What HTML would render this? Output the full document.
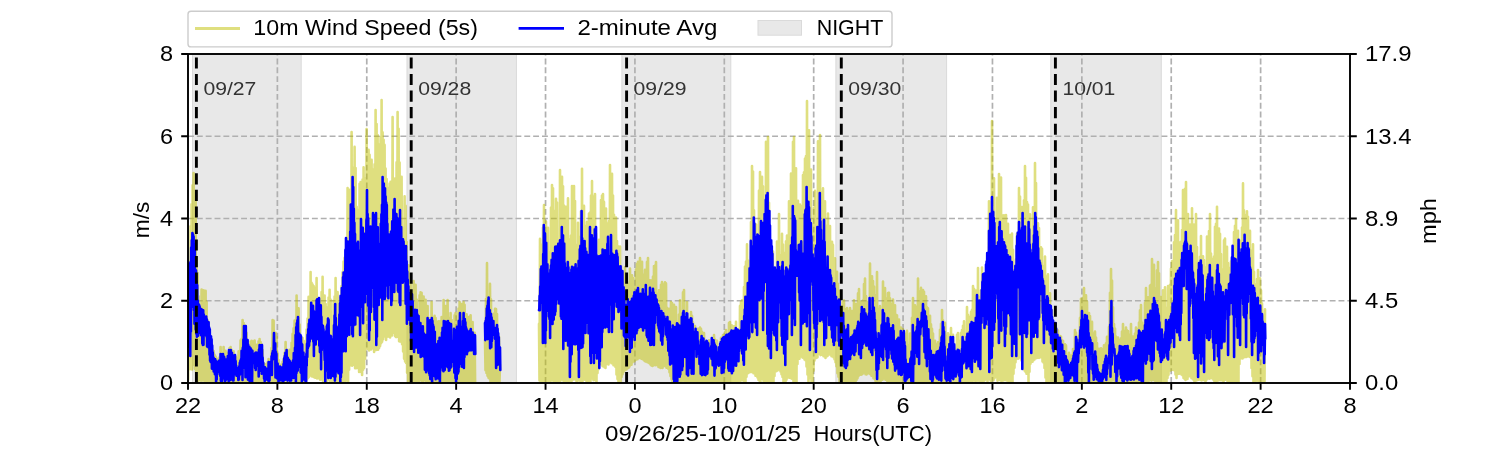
<!DOCTYPE html><html><head><meta charset="utf-8"><style>html,body{margin:0;padding:0;background:#fff;}svg{display:block;will-change:transform;}text{font-family:"Liberation Sans",sans-serif;}</style></head><body>
<svg width="1500" height="450" viewBox="0 0 1500 450">
<defs><clipPath id="ax"><rect x="188" y="54" width="1162" height="329"/></clipPath></defs>
<rect width="1500" height="450" fill="#fff"/>
<rect x="192.5" y="54" width="108.7" height="329" fill="#e8e8e8" stroke="#dadada" stroke-width="1"/>
<rect x="407" y="54" width="109.4" height="329" fill="#e8e8e8" stroke="#dadada" stroke-width="1"/>
<rect x="621.9" y="54" width="108.9" height="329" fill="#e8e8e8" stroke="#dadada" stroke-width="1"/>
<rect x="835.9" y="54" width="110.7" height="329" fill="#e8e8e8" stroke="#dadada" stroke-width="1"/>
<rect x="1050.8" y="54" width="110.5" height="329" fill="#e8e8e8" stroke="#dadada" stroke-width="1"/>
<path d="M277.38,383V54M366.77,383V54M456.15,383V54M545.54,383V54M634.92,383V54M724.31,383V54M813.69,383V54M903.08,383V54M992.46,383V54M1081.85,383V54M1171.23,383V54M1260.62,383V54M188,300.75H1350M188,218.5H1350M188,136.25H1350" stroke="#b0b0b0" stroke-width="1.7" stroke-dasharray="5.9 2.95" fill="none"/>
<g clip-path="url(#ax)">
<g opacity="0.5" fill="none" stroke="#bfbf00" stroke-width="2.6" stroke-linejoin="round" stroke-linecap="round">
<path d="M187.6,323.3 188.1,379.5 188.6,281.7 189.1,369.3 189.6,264.0 190.1,368.8 190.6,226.2 191.1,369.3 191.6,204.2 192.1,369.4 192.6,185.3 193.1,364.7 193.6,173.0 194.1,362.3 194.6,200.2 195.1,369.0 195.6,197.5 196.1,371.8 196.6,258.1 197.1,382.0 197.6,273.1 198.1,381.1 198.6,296.3 199.1,380.1 199.6,315.2 200.1,379.6 200.6,309.8 201.1,380.7 201.6,289.6 202.1,380.5 202.6,319.6 203.1,380.4 203.6,290.4 204.1,380.0 204.6,310.5 205.1,381.6 205.6,290.7 206.1,381.2 206.6,302.1 207.1,382.0 207.6,320.3 208.1,380.9 208.6,322.2 209.1,380.2 209.6,332.1 210.1,381.6 210.6,336.5 211.1,381.4 211.6,344.0 212.1,381.8 212.6,350.2 213.1,380.6 213.6,351.0 214.1,381.9 214.6,354.9 215.1,381.6 215.6,356.6 216.1,381.8 216.6,361.7 217.1,381.7 217.6,358.9 218.1,381.9 218.6,360.3 219.1,381.8 219.6,357.3 220.1,381.8 220.6,347.0 221.1,382.0 221.6,354.9 222.1,380.9 222.6,353.2 223.1,381.1 223.6,347.0 224.1,381.9 224.6,350.7 225.1,381.4 225.6,350.9 226.1,381.6 226.6,355.6 227.1,381.2 227.6,352.7 228.1,381.9 228.6,357.1 229.1,381.4 229.6,348.1 230.1,381.5 230.6,347.0 231.1,380.7 231.6,349.8 232.1,381.5 232.6,355.6 233.1,381.4 233.6,351.2 234.1,381.2 234.6,355.4 235.1,381.7 235.6,356.8 236.1,382.0 236.6,362.1 237.1,381.9 237.6,357.9 238.1,381.8 238.6,351.4 239.1,381.7 239.6,355.4 240.1,381.5 240.6,340.2 241.1,381.5 241.6,338.7 242.1,381.9 242.6,320.0 243.1,381.5 243.6,323.0 244.1,380.2 244.6,325.3 245.1,381.7 245.6,328.1 246.1,381.8 246.6,332.9 247.1,381.7 247.6,341.1 248.1,380.2 248.6,353.8 249.1,381.0 249.6,348.4 250.1,379.1 250.6,341.6 251.1,380.3 251.6,340.9 252.1,381.3 252.6,343.2 253.1,380.3 253.6,341.2 254.1,381.5 254.6,340.5 255.1,380.8 255.6,345.6 256.1,381.9 256.6,344.8 257.1,381.4 257.6,353.2 258.1,381.9 258.6,341.3 259.1,381.3 259.6,339.0 260.1,381.6 260.6,342.1 261.1,382.0 261.6,344.3 262.1,381.5 262.6,350.1 263.1,381.9 263.6,363.2 264.1,381.5 264.6,366.0 265.1,381.8 265.6,364.3 266.1,381.7 266.6,369.7 267.1,382.0 267.6,362.3 268.1,382.0 268.6,359.0 269.1,381.7 269.6,361.6 270.1,381.7 270.6,368.8 271.1,382.0 271.6,348.1 272.1,381.1 272.6,320.0 273.1,381.3 273.6,320.6 274.1,380.7 274.6,338.2 275.1,381.2 275.6,332.7 276.1,381.9 276.6,337.1 277.1,382.0 277.6,353.5 278.1,381.8 278.6,360.0 279.1,381.8 279.6,369.5 280.1,381.9 280.6,364.8 281.1,381.7 281.6,367.9 282.1,381.9 282.6,361.7 283.1,382.0 283.6,359.4 284.1,382.0 284.6,352.7 285.1,381.9 285.6,342.0 286.1,381.6 286.6,349.6 287.1,381.3 287.6,357.1 288.1,381.3 288.6,350.8 289.1,381.2 289.6,349.8 290.1,382.0 290.6,354.3 291.1,381.8 291.6,342.8 292.1,380.8 292.6,333.9 293.1,381.9 293.6,328.4 294.1,381.6 294.6,320.5 295.1,381.8 295.6,319.9 296.1,379.4 296.6,295.5 297.1,381.0 297.6,308.1 298.1,381.8 298.6,308.4 299.1,381.3 299.6,324.5 300.1,379.7 300.6,342.6 301.1,381.5 301.6,343.4 302.1,381.9 302.6,338.1 303.1,382.0 303.6,340.8 304.1,381.8 304.6,341.3 305.1,381.6 305.6,342.5 306.1,382.0 306.6,329.5 307.1,379.5 307.6,318.6 308.1,377.9 308.6,296.7 309.1,376.8 309.6,300.5 310.1,375.5 310.6,272.0 311.1,375.5 311.6,282.7 312.1,376.5 312.6,284.5 313.1,376.6 313.6,286.1 314.1,377.2 314.6,287.5 315.1,377.8 315.6,297.2 316.1,377.0 316.6,278.0 317.1,378.5 317.6,297.8 318.1,378.2 318.6,313.5 319.1,378.0 319.6,303.6 320.1,379.8 320.6,299.6 321.1,379.4 321.6,292.0 322.1,378.6 322.6,276.7 323.1,382.0 323.6,327.2 324.1,380.0 324.6,295.5 325.1,381.1 325.6,304.1 326.1,381.5 326.6,321.7 327.1,381.7 327.6,307.2 328.1,379.4 328.6,297.6 329.1,377.1 329.6,289.7 330.1,381.3 330.6,299.5 331.1,380.7 331.6,325.0 332.1,381.9 332.6,324.5 333.1,381.2 333.6,300.7 334.1,379.3 334.6,296.6 335.1,380.6 335.6,278.0 336.1,381.3 336.6,317.4 337.1,381.8 337.6,292.1 338.1,382.0 338.6,300.6 339.1,381.2 339.6,297.8 340.1,382.0 340.6,305.8 341.1,381.6 341.6,286.1 342.1,379.0 342.6,272.2 343.1,381.8 343.6,261.6 344.1,379.5 344.6,257.9 345.1,381.4 345.6,262.5 346.1,377.9 346.6,264.5 347.1,380.5 347.6,188.1 348.1,382.0 348.6,216.6 349.1,369.7 349.6,189.7 350.1,365.3 350.6,212.4 351.1,364.3 351.6,132.0 352.1,365.8 352.6,188.0 353.1,364.8 353.6,167.6 354.1,364.5 354.6,146.9 355.1,368.3 355.6,168.0 356.1,368.2 356.6,206.8 357.1,367.9 357.6,209.7 358.1,367.5 358.6,214.4 359.1,372.0 359.6,183.8 360.1,371.3 360.6,182.0 361.1,372.1 361.6,202.8 362.1,375.0 362.6,179.6 363.1,369.7 363.6,167.4 364.1,368.1 364.6,194.3 365.1,358.7 365.6,178.0 366.1,348.2 366.6,129.0 367.1,348.6 367.6,153.9 368.1,349.1 368.6,149.7 369.1,350.4 369.6,154.7 370.1,346.4 370.6,199.7 371.1,349.4 371.6,159.7 372.1,348.3 372.6,238.0 373.1,347.3 373.6,169.4 374.1,352.0 374.6,164.4 375.1,350.0 375.6,110.0 376.1,350.0 376.6,124.1 377.1,349.0 377.6,135.0 378.1,349.7 378.6,161.4 379.1,348.1 379.6,144.2 380.1,346.1 380.6,137.0 381.1,343.2 381.6,100.0 382.1,341.8 382.6,132.4 383.1,339.2 383.6,139.7 384.1,335.8 384.6,144.9 385.1,336.6 385.6,168.6 386.1,340.0 386.6,179.1 387.1,336.7 387.6,191.5 388.1,332.4 388.6,187.7 389.1,336.8 389.6,183.5 390.1,337.5 390.6,181.8 391.1,334.2 391.6,192.1 392.1,335.4 392.6,117.0 393.1,332.8 393.6,178.6 394.1,331.6 394.6,201.8 395.1,336.2 395.6,178.2 396.1,337.1 396.6,162.4 397.1,331.8 397.6,112.0 398.1,336.9 398.6,128.8 399.1,341.2 399.6,162.5 400.1,341.6 400.6,188.9 401.1,339.0 401.6,176.8 402.1,344.3 402.6,228.4 403.1,351.5 403.6,237.3 404.1,358.7 404.6,196.2 405.1,361.5 405.6,205.8 406.1,363.0 406.6,242.0 407.1,372.8 407.6,273.0 408.1,382.0 408.6,265.3 409.1,379.0 409.6,300.1 410.1,381.5 410.6,280.7 411.1,381.9 411.6,298.3 412.1,381.7 412.6,320.1 413.1,380.6 413.6,281.0 414.1,381.8 414.6,297.4 415.1,379.9 415.6,284.7 416.1,381.0 416.6,299.6 417.1,379.5 417.6,329.8 418.1,381.1 418.6,324.3 419.1,381.1 419.6,295.2 420.1,380.2 420.6,292.3 421.1,380.1 421.6,292.7 422.1,381.4 422.6,297.1 423.1,381.5 423.6,296.6 424.1,380.2 424.6,301.6 425.1,380.0 425.6,299.8 426.1,381.5 426.6,309.7 427.1,380.4 427.6,306.0 428.1,381.7 428.6,318.1 429.1,380.8 429.6,344.1 430.1,380.6 430.6,325.8 431.1,380.8 431.6,302.0 432.1,380.2 432.6,322.1 433.1,381.7 433.6,317.5 434.1,381.0 434.6,315.7 435.1,381.9 435.6,318.0 436.1,381.5 436.6,321.5 437.1,381.5 437.6,331.3 438.1,380.9 438.6,321.2 439.1,381.9 439.6,335.8 440.1,381.0 440.6,321.0 441.1,381.1 441.6,317.0 442.1,380.3 442.6,317.9 443.1,381.6 443.6,300.0 444.1,381.9 444.6,317.0 445.1,381.4 445.6,306.1 446.1,380.3 446.6,313.8 447.1,381.3 447.6,300.0 448.1,381.6 448.6,317.8 449.1,381.4 449.6,342.1 450.1,381.4 450.6,313.1 451.1,380.5 451.6,320.1 452.1,380.9 452.6,342.5 453.1,381.7 453.6,330.7 454.1,380.1 454.6,315.4 455.1,381.5 455.6,313.1 456.1,381.5 456.6,337.4 457.1,381.8 457.6,321.9 458.1,381.0 458.6,308.6 459.1,381.6 459.6,302.0 460.1,381.3 460.6,317.1 461.1,381.4 461.6,304.0 462.1,381.5 462.6,309.7 463.1,382.0 463.6,302.0 464.1,380.9 464.6,304.7 465.1,381.4 465.6,325.1 466.1,381.0 466.6,314.3 467.1,380.3 467.6,317.0 468.1,380.8 468.6,328.6 469.1,381.8 469.6,316.5 470.1,381.9 470.6,315.2 471.1,381.5 471.6,328.5 472.1,381.8 472.6,322.0 473.1,380.4 473.6,337.8 474.1,381.9 474.6,332.7 475.1,382.0"/>
<path d="M485.0,338.9 485.5,370.2 486.0,299.0 486.5,372.9 487.0,263.0 487.5,375.7 488.0,309.2 488.5,377.7 489.0,299.5 489.5,378.6 490.0,283.9 490.5,382.0 491.0,299.4 491.5,381.7 492.0,319.0 492.5,381.1 493.0,317.2 493.5,380.3 494.0,313.6 494.5,381.5 495.0,308.9 495.5,381.3 496.0,309.1 496.5,381.4 497.0,314.0 497.5,381.2 498.0,352.4 498.5,381.9 499.0,336.8 499.5,381.6 500.0,364.7"/>
<path d="M539.0,323.9 539.5,380.5 540.0,238.9 540.5,381.1 541.0,244.5 541.5,381.2 542.0,263.4 542.5,382.0 543.0,227.6 543.5,376.1 544.0,205.0 544.5,380.7 545.0,297.1 545.5,379.0 546.0,221.6 546.5,380.9 547.0,276.3 547.5,381.0 548.0,227.7 548.5,379.9 549.0,251.8 549.5,380.9 550.0,255.6 550.5,381.2 551.0,207.6 551.5,379.2 552.0,185.0 552.5,380.2 553.0,188.2 553.5,381.1 554.0,255.0 554.5,380.8 555.0,210.8 555.5,381.6 556.0,198.7 556.5,377.1 557.0,202.5 557.5,381.2 558.0,266.1 558.5,378.1 559.0,276.6 559.5,381.2 560.0,170.0 560.5,380.7 561.0,183.2 561.5,379.5 562.0,176.7 562.5,379.4 563.0,186.2 563.5,381.0 564.0,205.5 564.5,380.4 565.0,218.7 565.5,380.9 566.0,206.7 566.5,381.0 567.0,278.1 567.5,377.7 568.0,198.4 568.5,381.6 569.0,239.4 569.5,379.3 570.0,257.3 570.5,381.0 571.0,235.6 571.5,381.4 572.0,186.0 572.5,379.5 573.0,209.2 573.5,379.4 574.0,186.0 574.5,378.6 575.0,201.1 575.5,379.4 576.0,244.7 576.5,381.2 577.0,254.3 577.5,381.1 578.0,222.7 578.5,380.1 579.0,272.2 579.5,380.0 580.0,236.7 580.5,382.0 581.0,211.2 581.5,380.5 582.0,168.7 582.5,381.2 583.0,241.7 583.5,375.9 584.0,205.9 584.5,379.5 585.0,225.9 585.5,379.9 586.0,272.9 586.5,381.3 587.0,221.9 587.5,381.8 588.0,249.0 588.5,380.9 589.0,213.6 589.5,379.4 590.0,212.5 590.5,381.2 591.0,195.5 591.5,378.4 592.0,181.0 592.5,378.3 593.0,196.3 593.5,380.2 594.0,198.7 594.5,379.5 595.0,194.0 595.5,380.2 596.0,233.2 596.5,382.0 597.0,259.8 597.5,373.1 598.0,288.6 598.5,369.3 599.0,239.8 599.5,363.9 600.0,257.2 600.5,363.9 601.0,200.1 601.5,364.4 602.0,195.5 602.5,366.1 603.0,194.0 603.5,366.2 604.0,201.9 604.5,367.3 605.0,230.4 605.5,368.0 606.0,208.6 606.5,364.1 607.0,223.4 607.5,364.0 608.0,231.4 608.5,364.5 609.0,221.1 609.5,362.2 610.0,165.0 610.5,361.8 611.0,246.1 611.5,363.2 612.0,173.8 612.5,363.2 613.0,195.5 613.5,365.2 614.0,214.8 614.5,365.5 615.0,271.7 615.5,367.0 616.0,217.5 616.5,374.5 617.0,241.1 617.5,379.1 618.0,246.4 618.5,382.0 619.0,279.3 619.5,379.5 620.0,246.6 620.5,382.0 621.0,266.2 621.5,377.0 622.0,288.4 622.5,374.2 623.0,276.9 623.5,371.9 624.0,272.9 624.5,370.6 625.0,267.0 625.5,368.8 626.0,304.3 626.5,369.5 627.0,281.7 627.5,368.3 628.0,304.4 628.5,367.9 629.0,284.0 629.5,366.5 630.0,268.6 630.5,363.3 631.0,311.5 631.5,364.8 632.0,275.3 632.5,362.3 633.0,278.0 633.5,360.0 634.0,310.7 634.5,361.2 635.0,286.7 635.5,360.0 636.0,269.2 636.5,357.6 637.0,263.8 637.5,359.2 638.0,261.9 638.5,357.6 639.0,266.5 639.5,358.0 640.0,258.0 640.5,357.8 641.0,283.3 641.5,358.8 642.0,261.8 642.5,359.1 643.0,274.5 643.5,359.6 644.0,283.3 644.5,360.8 645.0,269.9 645.5,361.5 646.0,277.3 646.5,359.1 647.0,261.9 647.5,362.2 648.0,258.0 648.5,362.6 649.0,304.8 649.5,363.3 650.0,280.3 650.5,364.6 651.0,281.8 651.5,365.5 652.0,280.3 652.5,366.0 653.0,276.6 653.5,365.3 654.0,266.0 654.5,365.0 655.0,265.6 655.5,365.2 656.0,262.0 656.5,364.8 657.0,308.8 657.5,365.2 658.0,293.5 658.5,367.0 659.0,290.4 659.5,365.5 660.0,295.8 660.5,368.0 661.0,284.7 661.5,364.7 662.0,282.1 662.5,368.0 663.0,303.9 663.5,366.2 664.0,284.2 664.5,366.0 665.0,282.2 665.5,366.1 666.0,283.4 666.5,367.7 667.0,307.9 667.5,367.1 668.0,311.9 668.5,368.9 669.0,308.8 669.5,372.3 670.0,332.9 670.5,376.1 671.0,302.1 671.5,379.3 672.0,303.1 672.5,382.0 673.0,311.7 673.5,381.7 674.0,304.9 674.5,380.7 675.0,323.4 675.5,381.7 676.0,307.0 676.5,381.0 677.0,334.2 677.5,381.5 678.0,325.6 678.5,381.9 679.0,314.5 679.5,381.5 680.0,300.2 680.5,381.8 681.0,337.1 681.5,381.2 682.0,346.3 682.5,380.5 683.0,292.4 683.5,379.9 684.0,290.0 684.5,381.1 685.0,325.3 685.5,381.3 686.0,311.8 686.5,381.4 687.0,302.3 687.5,381.5 688.0,323.8 688.5,381.1 689.0,323.8 689.5,381.6 690.0,325.2 690.5,379.2 691.0,312.1 691.5,380.9 692.0,315.8 692.5,380.7 693.0,322.4 693.5,381.3 694.0,340.9 694.5,381.2 695.0,326.1 695.5,381.0 696.0,335.1 696.5,381.3 697.0,337.9 697.5,381.6 698.0,328.8 698.5,381.5 699.0,338.7 699.5,380.6 700.0,327.5 700.5,382.0 701.0,328.9 701.5,382.0 702.0,331.7 702.5,381.6 703.0,333.2 703.5,381.5 704.0,333.0 704.5,381.6 705.0,342.4 705.5,381.2 706.0,342.3 706.5,381.9 707.0,353.8 707.5,381.6 708.0,345.8 708.5,381.9 709.0,340.4 709.5,381.4 710.0,353.9 710.5,381.4 711.0,346.0 711.5,382.0 712.0,354.9 712.5,381.0 713.0,339.9 713.5,381.6 714.0,335.0 714.5,381.1 715.0,339.6 715.5,380.6 716.0,345.4 716.5,380.9 717.0,340.7 717.5,381.9 718.0,347.0 718.5,381.3 719.0,351.0 719.5,381.6 720.0,347.2 720.5,381.4 721.0,337.9 721.5,381.6 722.0,343.6 722.5,381.9 723.0,335.0 723.5,381.8 724.0,339.4 724.5,382.0 725.0,332.4 725.5,381.3 726.0,330.1 726.5,381.2 727.0,344.4 727.5,381.7 728.0,340.9 728.5,381.2 729.0,322.9 729.5,380.6 730.0,322.0 730.5,381.5 731.0,325.2 731.5,381.9 732.0,325.5 732.5,381.0 733.0,350.8 733.5,380.6 734.0,326.4 734.5,381.9 735.0,330.1 735.5,381.5 736.0,321.9 736.5,380.1 737.0,352.2 737.5,381.7 738.0,334.4 738.5,381.1 739.0,337.7 739.5,381.0 740.0,305.9 740.5,381.2 741.0,302.0 741.5,379.0 742.0,300.2 742.5,379.7 743.0,304.1 743.5,381.1 744.0,287.1 744.5,379.6 745.0,266.6 745.5,382.0 746.0,261.5 746.5,376.8 747.0,244.4 747.5,373.4 748.0,260.5 748.5,372.8 749.0,267.0 749.5,372.3 750.0,268.9 750.5,371.0 751.0,222.0 751.5,371.9 752.0,166.0 752.5,366.8 753.0,171.5 753.5,373.2 754.0,210.3 754.5,372.7 755.0,246.7 755.5,375.7 756.0,224.6 756.5,375.3 757.0,250.1 757.5,377.5 758.0,253.6 758.5,379.9 759.0,190.6 759.5,380.7 760.0,172.0 760.5,382.0 761.0,199.2 761.5,378.8 762.0,176.7 762.5,377.5 763.0,186.3 763.5,381.0 764.0,231.5 764.5,381.5 765.0,224.3 765.5,380.8 766.0,141.7 766.5,376.8 767.0,214.1 767.5,381.2 768.0,137.0 768.5,380.3 769.0,202.8 769.5,381.8 770.0,260.5 770.5,381.7 771.0,269.2 771.5,381.2 772.0,304.8 772.5,379.4 773.0,251.5 773.5,382.0 774.0,281.5 774.5,375.9 775.0,269.3 775.5,369.7 776.0,270.9 776.5,371.1 777.0,241.6 777.5,370.4 778.0,269.2 778.5,369.6 779.0,214.0 779.5,369.2 780.0,255.1 780.5,371.4 781.0,293.8 781.5,374.2 782.0,233.7 782.5,376.9 783.0,244.6 783.5,382.0 784.0,279.8 784.5,378.8 785.0,252.8 785.5,382.0 786.0,241.2 786.5,379.7 787.0,235.5 787.5,377.5 788.0,254.6 788.5,376.2 789.0,201.4 789.5,377.8 790.0,256.6 790.5,375.1 791.0,173.6 791.5,378.6 792.0,184.9 792.5,376.4 793.0,141.8 793.5,381.5 794.0,137.0 794.5,376.9 795.0,181.9 795.5,381.9 796.0,168.3 796.5,382.0 797.0,239.8 797.5,364.0 798.0,200.8 798.5,357.5 799.0,231.6 799.5,358.7 800.0,204.6 800.5,356.6 801.0,206.0 801.5,355.4 802.0,216.2 802.5,357.6 803.0,175.1 803.5,355.9 804.0,172.2 804.5,359.5 805.0,158.6 805.5,360.3 806.0,156.0 806.5,366.5 807.0,101.0 807.5,374.4 808.0,131.2 808.5,382.0 809.0,130.3 809.5,378.2 810.0,218.0 810.5,377.5 811.0,169.5 811.5,381.9 812.0,224.4 812.5,382.0 813.0,236.7 813.5,370.7 814.0,207.8 814.5,360.6 815.0,190.9 815.5,357.9 816.0,220.6 816.5,358.0 817.0,243.7 817.5,357.3 818.0,141.3 818.5,353.3 819.0,166.4 819.5,353.7 820.0,135.0 820.5,355.1 821.0,202.2 821.5,354.7 822.0,192.3 822.5,354.8 823.0,188.4 823.5,356.2 824.0,216.0 824.5,356.1 825.0,201.4 825.5,358.0 826.0,232.5 826.5,356.4 827.0,225.5 827.5,356.0 828.0,213.5 828.5,353.9 829.0,234.6 829.5,354.4 830.0,226.1 830.5,354.1 831.0,260.7 831.5,356.2 832.0,241.7 832.5,353.6 833.0,244.9 833.5,357.3 834.0,265.4 834.5,359.3 835.0,258.3 835.5,362.2 836.0,306.3 836.5,366.3 837.0,271.7 837.5,373.2 838.0,283.8 838.5,376.7 839.0,291.0 839.5,382.0 840.0,291.0 840.5,381.5 841.0,308.4 841.5,381.0 842.0,308.4 842.5,380.7 843.0,301.7 843.5,381.7 844.0,300.5 844.5,381.5 845.0,322.7 845.5,379.2 846.0,309.1 846.5,381.8 847.0,308.0 847.5,381.4 848.0,312.1 848.5,381.0 849.0,310.8 849.5,381.4 850.0,308.1 850.5,380.3 851.0,310.7 851.5,381.1 852.0,319.4 852.5,380.9 853.0,310.8 853.5,381.4 854.0,300.2 854.5,380.0 855.0,309.2 855.5,382.0 856.0,304.0 856.5,379.9 857.0,310.1 857.5,378.2 858.0,293.4 858.5,376.1 859.0,289.0 859.5,374.8 860.0,307.3 860.5,374.6 861.0,301.7 861.5,374.6 862.0,321.8 862.5,373.9 863.0,300.3 863.5,371.5 864.0,284.1 864.5,372.5 865.0,278.5 865.5,374.2 866.0,296.0 866.5,374.4 867.0,301.9 867.5,373.5 868.0,306.0 868.5,373.2 869.0,318.2 869.5,373.6 870.0,263.5 870.5,374.3 871.0,297.4 871.5,375.8 872.0,276.2 872.5,376.1 873.0,281.0 873.5,378.3 874.0,286.5 874.5,378.8 875.0,301.5 875.5,380.9 876.0,295.0 876.5,382.0 877.0,272.0 877.5,380.7 878.0,322.7 878.5,380.5 879.0,308.9 879.5,381.6 880.0,306.1 880.5,381.9 881.0,320.4 881.5,378.4 882.0,330.2 882.5,379.8 883.0,281.5 883.5,378.6 884.0,290.7 884.5,376.3 885.0,288.0 885.5,379.7 886.0,298.4 886.5,379.0 887.0,330.0 887.5,382.0 888.0,293.0 888.5,381.2 889.0,292.7 889.5,381.5 890.0,298.3 890.5,379.7 891.0,303.7 891.5,381.1 892.0,325.4 892.5,380.7 893.0,299.5 893.5,380.1 894.0,319.3 894.5,381.3 895.0,305.3 895.5,380.6 896.0,314.9 896.5,381.9 897.0,315.2 897.5,381.5 898.0,331.5 898.5,380.7 899.0,319.5 899.5,381.9 900.0,330.3 900.5,381.6 901.0,327.6 901.5,381.8 902.0,329.2 902.5,381.1 903.0,329.3 903.5,381.3 904.0,340.4 904.5,381.6 905.0,338.1 905.5,381.6 906.0,333.6 906.5,381.1 907.0,330.7 907.5,379.4 908.0,352.8 908.5,381.7 909.0,345.0 909.5,381.6 910.0,333.5 910.5,381.6 911.0,341.2 911.5,381.6 912.0,317.8 912.5,381.5 913.0,298.0 913.5,381.8 914.0,324.4 914.5,381.6 915.0,305.3 915.5,381.4 916.0,306.7 916.5,379.9 917.0,309.4 917.5,380.9 918.0,278.5 918.5,381.5 919.0,291.3 919.5,381.9 920.0,297.0 920.5,379.9 921.0,287.9 921.5,381.1 922.0,290.8 922.5,382.0 923.0,290.0 923.5,381.8 924.0,291.7 924.5,381.3 925.0,314.4 925.5,378.6 926.0,296.4 926.5,380.8 927.0,307.3 927.5,381.0 928.0,308.3 928.5,380.1 929.0,316.6 929.5,381.4 930.0,315.8 930.5,381.3 931.0,324.4 931.5,381.7 932.0,328.9 932.5,381.9 933.0,333.6 933.5,380.9 934.0,349.8 934.5,381.4 935.0,340.8 935.5,381.2 936.0,344.4 936.5,381.8 937.0,351.8 937.5,381.9 938.0,342.4 938.5,381.9 939.0,349.1 939.5,381.6 940.0,329.8 940.5,380.7 941.0,323.7 941.5,379.9 942.0,310.0 942.5,381.3 943.0,320.2 943.5,381.1 944.0,331.3 944.5,381.8 945.0,322.8 945.5,382.0 946.0,341.7 946.5,381.4 947.0,335.9 947.5,381.8 948.0,333.3 948.5,381.5 949.0,335.2 949.5,381.5 950.0,336.9 950.5,381.7 951.0,328.0 951.5,381.4 952.0,346.0 952.5,380.9 953.0,334.7 953.5,381.7 954.0,345.7 954.5,381.7 955.0,356.1 955.5,381.3 956.0,352.6 956.5,381.9 957.0,334.8 957.5,380.7 958.0,333.0 958.5,381.9 959.0,341.2 959.5,382.0 960.0,340.7 960.5,381.1 961.0,332.7 961.5,381.1 962.0,330.1 962.5,381.3 963.0,325.8 963.5,380.5 964.0,321.3 964.5,381.9 965.0,333.8 965.5,381.3 966.0,335.5 966.5,381.5 967.0,307.0 967.5,380.4 968.0,314.9 968.5,381.6 969.0,327.0 969.5,380.9 970.0,316.7 970.5,380.4 971.0,311.9 971.5,380.7 972.0,309.9 972.5,381.5 973.0,286.0 973.5,380.0 974.0,288.8 974.5,380.3 975.0,295.2 975.5,381.7 976.0,290.6 976.5,379.5 977.0,296.9 977.5,380.6 978.0,268.0 978.5,380.1 979.0,297.0 979.5,381.1 980.0,306.8 980.5,380.0 981.0,290.3 981.5,381.9 982.0,267.5 982.5,382.0 983.0,279.6 983.5,379.6 984.0,288.8 984.5,380.6 985.0,303.3 985.5,378.5 986.0,302.7 986.5,379.2 987.0,267.4 987.5,381.8 988.0,261.0 988.5,378.0 989.0,201.3 989.5,379.1 990.0,248.3 990.5,380.6 991.0,211.8 991.5,380.9 992.0,121.0 992.5,379.1 993.0,222.5 993.5,380.2 994.0,178.3 994.5,378.3 995.0,252.8 995.5,373.4 996.0,228.4 996.5,376.9 997.0,197.8 997.5,380.7 998.0,241.7 998.5,377.8 999.0,174.0 999.5,379.9 1000.0,219.5 1000.5,380.3 1001.0,177.5 1001.5,381.4 1002.0,215.4 1002.5,378.1 1003.0,216.8 1003.5,380.4 1004.0,215.2 1004.5,379.1 1005.0,227.6 1005.5,380.0 1006.0,215.1 1006.5,380.4 1007.0,256.9 1007.5,380.6 1008.0,223.7 1008.5,381.8 1009.0,278.9 1009.5,379.6 1010.0,235.1 1010.5,381.6 1011.0,241.5 1011.5,380.2 1012.0,233.6 1012.5,382.0 1013.0,249.8 1013.5,373.7 1014.0,290.5 1014.5,367.8 1015.0,275.4 1015.5,362.2 1016.0,259.2 1016.5,359.1 1017.0,233.8 1017.5,356.4 1018.0,251.3 1018.5,358.6 1019.0,188.0 1019.5,357.3 1020.0,196.5 1020.5,355.5 1021.0,229.9 1021.5,360.4 1022.0,207.0 1022.5,364.2 1023.0,223.4 1023.5,366.5 1024.0,200.3 1024.5,370.4 1025.0,166.0 1025.5,371.7 1026.0,177.8 1026.5,373.7 1027.0,202.0 1027.5,371.5 1028.0,204.6 1028.5,382.0 1029.0,249.0 1029.5,371.7 1030.0,214.3 1030.5,363.8 1031.0,243.8 1031.5,360.5 1032.0,251.7 1032.5,361.8 1033.0,207.2 1033.5,360.2 1034.0,264.8 1034.5,359.4 1035.0,163.0 1035.5,357.8 1036.0,183.1 1036.5,358.1 1037.0,273.9 1037.5,355.8 1038.0,223.4 1038.5,357.8 1039.0,228.1 1039.5,357.6 1040.0,251.5 1040.5,355.4 1041.0,247.2 1041.5,357.2 1042.0,248.8 1042.5,361.4 1043.0,311.5 1043.5,362.5 1044.0,265.7 1044.5,368.0 1045.0,256.6 1045.5,377.6 1046.0,295.1 1046.5,382.0 1047.0,276.2 1047.5,381.3 1048.0,274.4 1048.5,381.8 1049.0,310.3 1049.5,381.6 1050.0,293.2 1050.5,381.9 1051.0,311.7 1051.5,382.0 1052.0,310.2 1052.5,381.9 1053.0,322.2 1053.5,381.4 1054.0,323.5 1054.5,382.0 1055.0,324.8 1055.5,380.4 1056.0,329.3 1056.5,381.6 1057.0,337.9 1057.5,381.9 1058.0,330.5 1058.5,381.3 1059.0,336.1 1059.5,381.1 1060.0,336.0 1060.5,381.5 1061.0,336.5 1061.5,382.0 1062.0,340.3 1062.5,382.0 1063.0,340.7 1063.5,381.5 1064.0,357.3 1064.5,381.4 1065.0,344.3 1065.5,381.8 1066.0,345.4 1066.5,381.9 1067.0,360.5 1067.5,381.6 1068.0,363.5 1068.5,381.3 1069.0,352.9 1069.5,381.4 1070.0,362.8 1070.5,381.4 1071.0,355.6 1071.5,381.5 1072.0,357.1 1072.5,381.4 1073.0,349.0 1073.5,382.0 1074.0,349.7 1074.5,380.8 1075.0,330.0 1075.5,381.5 1076.0,332.6 1076.5,381.5 1077.0,343.5 1077.5,381.7 1078.0,345.8 1078.5,381.7 1079.0,335.8 1079.5,381.6 1080.0,317.9 1080.5,381.9 1081.0,298.7 1081.5,381.5 1082.0,332.7 1082.5,379.5 1083.0,297.8 1083.5,381.9 1084.0,288.0 1084.5,379.8 1085.0,299.6 1085.5,381.3 1086.0,295.4 1086.5,380.4 1087.0,301.5 1087.5,381.8 1088.0,315.8 1088.5,381.6 1089.0,313.1 1089.5,381.6 1090.0,316.0 1090.5,380.0 1091.0,330.0 1091.5,381.4 1092.0,321.9 1092.5,381.3 1093.0,337.6 1093.5,381.2 1094.0,333.2 1094.5,381.1 1095.0,331.5 1095.5,382.0 1096.0,337.6 1096.5,380.7 1097.0,343.0 1097.5,381.3 1098.0,349.5 1098.5,382.0 1099.0,348.9 1099.5,381.7 1100.0,351.2 1100.5,381.8 1101.0,348.2 1101.5,380.9 1102.0,348.8 1102.5,381.5 1103.0,349.0 1103.5,380.9 1104.0,345.2 1104.5,381.7 1105.0,347.4 1105.5,381.5 1106.0,343.2 1106.5,380.9 1107.0,336.9 1107.5,382.0 1108.0,344.0 1108.5,381.0 1109.0,327.0 1109.5,381.8 1110.0,292.8 1110.5,382.0 1111.0,269.0 1111.5,381.1 1112.0,280.6 1112.5,380.3 1113.0,307.3 1113.5,378.6 1114.0,324.1 1114.5,380.8 1115.0,328.5 1115.5,381.4 1116.0,336.5 1116.5,381.1 1117.0,344.4 1117.5,380.6 1118.0,337.5 1118.5,381.9 1119.0,339.7 1119.5,380.6 1120.0,344.7 1120.5,381.8 1121.0,338.4 1121.5,380.9 1122.0,331.6 1122.5,380.6 1123.0,324.0 1123.5,380.4 1124.0,330.9 1124.5,380.8 1125.0,332.9 1125.5,380.9 1126.0,327.5 1126.5,381.9 1127.0,330.4 1127.5,381.8 1128.0,331.1 1128.5,381.9 1129.0,356.5 1129.5,381.5 1130.0,334.6 1130.5,381.2 1131.0,324.0 1131.5,381.1 1132.0,340.2 1132.5,381.9 1133.0,336.6 1133.5,380.8 1134.0,337.1 1134.5,381.5 1135.0,333.5 1135.5,381.7 1136.0,327.6 1136.5,381.8 1137.0,345.2 1137.5,380.4 1138.0,329.0 1138.5,380.2 1139.0,322.6 1139.5,381.5 1140.0,310.2 1140.5,380.4 1141.0,305.0 1141.5,382.0 1142.0,322.6 1142.5,380.8 1143.0,335.2 1143.5,381.9 1144.0,324.7 1144.5,381.9 1145.0,302.8 1145.5,381.8 1146.0,288.0 1146.5,381.3 1147.0,304.5 1147.5,380.1 1148.0,297.2 1148.5,381.5 1149.0,297.6 1149.5,380.1 1150.0,285.6 1150.5,379.6 1151.0,284.7 1151.5,380.6 1152.0,259.0 1152.5,379.0 1153.0,278.8 1153.5,379.7 1154.0,264.9 1154.5,380.4 1155.0,288.2 1155.5,381.6 1156.0,305.3 1156.5,381.6 1157.0,270.2 1157.5,381.7 1158.0,262.0 1158.5,381.6 1159.0,273.3 1159.5,380.6 1160.0,317.2 1160.5,381.6 1161.0,297.1 1161.5,381.8 1162.0,299.7 1162.5,380.7 1163.0,290.2 1163.5,381.5 1164.0,296.8 1164.5,381.7 1165.0,287.2 1165.5,379.7 1166.0,309.7 1166.5,382.0 1167.0,307.9 1167.5,378.0 1168.0,286.0 1168.5,374.8 1169.0,297.4 1169.5,368.2 1170.0,284.9 1170.5,370.4 1171.0,268.6 1171.5,369.9 1172.0,261.4 1172.5,367.7 1173.0,285.0 1173.5,369.8 1174.0,242.3 1174.5,370.4 1175.0,235.0 1175.5,374.5 1176.0,210.0 1176.5,378.0 1177.0,230.3 1177.5,374.1 1178.0,220.4 1178.5,373.7 1179.0,242.2 1179.5,373.6 1180.0,256.4 1180.5,372.7 1181.0,241.8 1181.5,374.4 1182.0,230.1 1182.5,375.3 1183.0,190.0 1183.5,378.0 1184.0,256.7 1184.5,378.7 1185.0,188.8 1185.5,380.0 1186.0,182.0 1186.5,377.3 1187.0,219.7 1187.5,378.9 1188.0,214.0 1188.5,372.8 1189.0,266.0 1189.5,376.2 1190.0,224.6 1190.5,372.7 1191.0,255.3 1191.5,378.3 1192.0,208.3 1192.5,378.6 1193.0,236.4 1193.5,379.8 1194.0,224.5 1194.5,382.0 1195.0,268.7 1195.5,378.4 1196.0,214.0 1196.5,380.4 1197.0,247.1 1197.5,379.7 1198.0,273.6 1198.5,379.8 1199.0,266.1 1199.5,378.9 1200.0,256.8 1200.5,379.8 1201.0,236.0 1201.5,380.4 1202.0,270.4 1202.5,378.3 1203.0,256.3 1203.5,380.0 1204.0,260.0 1204.5,376.7 1205.0,271.9 1205.5,382.0 1206.0,267.4 1206.5,379.7 1207.0,236.6 1207.5,378.4 1208.0,245.7 1208.5,376.8 1209.0,231.1 1209.5,378.7 1210.0,214.0 1210.5,377.2 1211.0,253.5 1211.5,378.0 1212.0,289.3 1212.5,378.5 1213.0,258.8 1213.5,379.7 1214.0,256.5 1214.5,382.0 1215.0,226.8 1215.5,378.3 1216.0,223.8 1216.5,381.8 1217.0,206.7 1217.5,377.6 1218.0,265.5 1218.5,380.5 1219.0,228.6 1219.5,379.4 1220.0,233.8 1220.5,380.1 1221.0,254.1 1221.5,380.3 1222.0,278.8 1222.5,378.6 1223.0,269.2 1223.5,381.9 1224.0,240.4 1224.5,379.7 1225.0,238.5 1225.5,379.6 1226.0,248.6 1226.5,379.5 1227.0,246.8 1227.5,381.3 1228.0,263.1 1228.5,381.0 1229.0,267.9 1229.5,381.0 1230.0,279.9 1230.5,381.8 1231.0,261.4 1231.5,381.6 1232.0,258.8 1232.5,381.4 1233.0,296.3 1233.5,381.0 1234.0,232.1 1234.5,381.4 1235.0,225.8 1235.5,380.1 1236.0,219.0 1236.5,382.0 1237.0,257.0 1237.5,381.8 1238.0,230.8 1238.5,382.0 1239.0,241.4 1239.5,363.9 1240.0,240.7 1240.5,358.3 1241.0,250.6 1241.5,358.3 1242.0,227.5 1242.5,358.5 1243.0,183.4 1243.5,357.4 1244.0,210.2 1244.5,354.4 1245.0,247.4 1245.5,356.9 1246.0,214.9 1246.5,356.9 1247.0,211.3 1247.5,356.3 1248.0,216.7 1248.5,356.0 1249.0,258.2 1249.5,356.7 1250.0,230.9 1250.5,357.2 1251.0,256.0 1251.5,367.9 1252.0,250.5 1252.5,376.2 1253.0,244.3 1253.5,382.0 1254.0,271.8 1254.5,380.4 1255.0,284.5 1255.5,381.6 1256.0,284.4 1256.5,380.6 1257.0,279.0 1257.5,380.5 1258.0,270.1 1258.5,381.6 1259.0,288.0 1259.5,381.8 1260.0,278.2 1260.5,381.6 1261.0,290.4 1261.5,381.2 1262.0,303.4 1262.5,380.9 1263.0,320.6 1263.5,381.7 1264.0,316.4 1264.5,381.4 1265.0,309.2"/>
</g>
<g fill="none" stroke="#0000ff" stroke-width="2.6" stroke-linejoin="round" stroke-linecap="round">
<path d="M187.6,335.0 187.9,346.7 188.2,319.1 188.5,340.1 188.8,276.8 189.1,333.9 189.4,263.4 189.7,323.9 190.0,263.5 190.3,356.0 190.6,261.7 190.9,331.5 191.2,247.5 191.5,306.9 191.8,240.2 192.1,277.7 192.4,233.0 192.7,274.7 193.0,234.6 193.3,296.5 193.6,236.5 193.9,309.9 194.2,244.0 194.5,323.7 194.8,247.8 195.1,323.8 195.4,274.8 195.7,329.5 196.0,270.4 196.3,333.7 196.6,281.6 196.9,336.8 197.2,285.2 197.5,327.2 197.8,300.6 198.1,335.7 198.4,304.7 198.7,333.1 199.0,304.5 199.3,330.8 199.6,306.2 199.9,318.3 200.2,310.6 200.5,332.4 200.8,311.7 201.1,335.3 201.4,309.1 201.7,333.6 202.0,312.2 202.3,343.5 202.6,314.9 202.9,345.0 203.2,310.2 203.5,344.7 203.8,314.5 204.1,330.9 204.4,325.4 204.7,323.3 205.0,321.5 205.3,321.6 205.6,318.9 205.9,335.3 206.2,316.6 206.5,336.6 206.8,319.4 207.1,346.4 207.4,321.6 207.7,328.0 208.0,325.4 208.3,347.3 208.6,322.3 208.9,347.3 209.2,327.5 209.5,354.8 209.8,329.2 210.1,360.8 210.4,339.0 210.7,362.0 211.0,336.3 211.3,360.9 211.6,339.2 211.9,368.6 212.2,345.6 212.5,368.2 212.8,352.6 213.1,366.4 213.4,357.5 213.7,371.4 214.0,358.6 214.3,369.3 214.6,360.3 214.9,374.2 215.2,359.4 215.5,367.7 215.8,360.9 216.1,382.0 216.4,361.8 216.7,379.4 217.0,364.5 217.3,374.4 217.6,368.5 217.9,372.2 218.2,365.7 218.5,368.3 218.8,360.9 219.1,366.6 219.4,365.0 219.7,370.5 220.0,365.7 220.3,375.9 220.6,354.0 220.9,381.0 221.2,357.5 221.5,379.2 221.8,354.2 222.1,381.1 222.4,357.1 222.7,376.0 223.0,354.0 223.3,370.1 223.6,356.4 223.9,373.4 224.2,357.1 224.5,378.8 224.8,362.1 225.1,381.6 225.4,359.2 225.7,380.2 226.0,363.5 226.3,376.6 226.6,363.7 226.9,378.5 227.2,359.4 227.5,379.1 227.8,356.0 228.1,371.0 228.4,358.5 228.7,381.6 229.0,350.0 229.3,380.7 229.6,351.0 229.9,378.7 230.2,351.4 230.5,379.7 230.8,350.0 231.1,373.5 231.4,355.8 231.7,365.0 232.0,352.8 232.3,374.7 232.6,355.1 232.9,380.5 233.2,357.3 233.5,380.4 233.8,357.7 234.1,370.9 234.4,357.0 234.7,374.2 235.0,355.0 235.3,373.1 235.6,361.0 235.9,371.6 236.2,365.9 236.5,375.8 236.8,370.2 237.1,374.2 237.4,371.0 237.7,375.4 238.0,368.0 238.3,379.9 238.6,369.2 238.9,379.5 239.2,366.6 239.5,375.1 239.8,362.7 240.1,368.8 240.4,360.9 240.7,373.8 241.0,359.4 241.3,370.8 241.6,350.8 241.9,374.1 242.2,353.1 242.5,380.0 242.8,347.9 243.1,367.9 243.4,339.5 243.7,366.0 244.0,326.0 244.3,362.2 244.6,329.6 244.9,357.3 245.2,326.7 245.5,377.3 245.8,326.0 246.1,365.8 246.4,339.8 246.7,369.5 247.0,343.4 247.3,375.5 247.6,340.0 247.9,379.6 248.2,344.9 248.5,363.2 248.8,347.5 249.1,371.5 249.4,346.9 249.7,381.6 250.0,354.8 250.3,376.9 250.6,348.4 250.9,378.8 251.2,349.6 251.5,377.6 251.8,350.6 252.1,381.9 252.4,350.7 252.7,363.7 253.0,357.6 253.3,360.8 253.6,360.2 253.9,360.9 254.2,358.6 254.5,361.0 254.8,353.8 255.1,367.9 255.4,352.9 255.7,369.9 256.0,352.6 256.3,361.0 256.6,355.5 256.9,365.2 257.2,363.8 257.5,361.8 257.8,361.7 258.1,365.8 258.4,352.2 258.7,376.5 259.0,349.6 259.3,359.7 259.6,345.0 259.9,361.1 260.2,351.1 260.5,363.5 260.8,345.6 261.1,371.0 261.4,353.1 261.7,373.8 262.0,345.0 262.3,370.1 262.6,357.5 262.9,369.2 263.2,362.8 263.5,371.7 263.8,368.9 264.1,378.8 264.4,367.8 264.7,381.1 265.0,367.4 265.3,378.4 265.6,368.2 265.9,379.7 266.2,368.9 266.5,377.6 266.8,370.6 267.1,377.4 267.4,371.1 267.7,378.0 268.0,373.7 268.3,380.6 268.6,362.0 268.9,381.6 269.2,370.3 269.5,380.5 269.8,363.5 270.1,372.5 270.4,362.0 270.7,372.5 271.0,363.8 271.3,367.3 271.6,356.2 271.9,375.0 272.2,353.2 272.5,359.8 272.8,351.1 273.1,352.1 273.4,355.4 273.7,349.5 274.0,333.0 274.3,355.4 274.6,350.2 274.9,359.7 275.2,343.4 275.5,377.4 275.8,351.9 276.1,368.5 276.4,353.8 276.7,370.0 277.0,364.4 277.3,378.5 277.6,363.6 277.9,373.3 278.2,368.2 278.5,381.8 278.8,369.0 279.1,380.7 279.4,369.2 279.7,378.3 280.0,366.5 280.3,375.0 280.6,369.2 280.9,380.1 281.2,368.8 281.5,377.2 281.8,367.6 282.1,373.8 282.4,367.9 282.7,381.1 283.0,368.7 283.3,382.0 283.6,364.0 283.9,372.5 284.2,358.3 284.5,378.5 284.8,356.1 285.1,379.7 285.4,352.8 285.7,370.7 286.0,353.0 286.3,372.2 286.6,350.0 286.9,377.6 287.2,359.7 287.5,380.6 287.8,357.9 288.1,374.6 288.4,361.3 288.7,372.0 289.0,359.9 289.3,373.8 289.6,364.0 289.9,380.7 290.2,361.4 290.5,379.9 290.8,363.1 291.1,380.5 291.4,365.3 291.7,377.7 292.0,369.6 292.3,374.0 292.6,363.9 292.9,376.8 293.2,360.3 293.5,377.9 293.8,353.1 294.1,355.9 294.4,355.3 294.7,372.5 295.0,347.8 295.3,373.7 295.6,335.1 295.9,382.0 296.2,327.2 296.5,373.1 296.8,323.2 297.1,341.3 297.4,320.3 297.7,370.6 298.0,317.0 298.3,360.0 298.6,337.7 298.9,366.6 299.2,333.6 299.5,366.6 299.8,342.2 300.1,361.8 300.4,335.1 300.7,372.4 301.0,336.2 301.3,373.2 301.6,343.9 301.9,382.0 302.2,344.5 302.5,364.0 302.8,353.6 303.1,375.8 303.4,352.6 303.7,379.5 304.0,356.8 304.3,375.0 304.6,359.9 304.9,368.5 305.2,366.1 305.5,381.3 305.8,363.6 306.1,382.0 306.4,353.8 306.7,365.8 307.0,343.7 307.3,357.0 307.6,334.8 307.9,348.1 308.2,329.3 308.5,346.6 308.8,323.8 309.1,345.6 309.4,319.8 309.7,341.6 310.0,321.0 310.3,333.8 310.6,323.0 310.9,332.3 311.2,302.7 311.5,336.6 311.8,309.3 312.1,338.6 312.4,313.3 312.7,334.9 313.0,305.9 313.3,341.6 313.6,310.9 313.9,356.0 314.2,311.9 314.5,333.7 314.8,317.7 315.1,339.0 315.4,315.8 315.7,344.5 316.0,313.5 316.3,337.6 316.6,300.2 316.9,330.2 317.2,299.4 317.5,338.6 317.8,303.9 318.1,339.2 318.4,307.9 318.7,328.5 319.0,298.0 319.3,345.7 319.6,305.4 319.9,352.1 320.2,317.9 320.5,343.2 320.8,305.4 321.1,369.2 321.4,316.8 321.7,350.3 322.0,328.7 322.3,338.7 322.6,328.6 322.9,325.8 323.2,328.7 323.5,329.7 323.8,336.8 324.1,342.5 324.4,351.0 324.7,360.1 325.0,345.5 325.3,382.0 325.6,342.9 325.9,351.1 326.2,331.2 326.5,367.8 326.8,326.4 327.1,352.5 327.4,324.5 327.7,370.7 328.0,318.6 328.3,377.9 328.6,319.9 328.9,371.6 329.2,341.1 329.5,372.2 329.8,338.1 330.1,370.4 330.4,335.7 330.7,377.9 331.0,336.3 331.3,365.6 331.6,339.2 331.9,362.1 332.2,345.5 332.5,367.9 332.8,350.4 333.1,376.1 333.4,340.3 333.7,359.2 334.0,325.2 334.3,365.2 334.6,315.6 334.9,380.6 335.2,304.0 335.5,376.8 335.8,318.0 336.1,344.1 336.4,326.2 336.7,368.4 337.0,340.7 337.3,371.0 337.6,343.2 337.9,371.7 338.2,345.6 338.5,373.3 338.8,327.3 339.1,358.4 339.4,314.6 339.7,369.4 340.0,303.3 340.3,382.0 340.6,295.7 340.9,377.0 341.2,303.5 341.5,372.7 341.8,288.1 342.1,345.5 342.4,298.3 342.7,347.7 343.0,277.2 343.3,351.3 343.6,272.5 343.9,344.1 344.2,278.5 344.5,336.7 344.8,280.9 345.1,337.1 345.4,249.9 345.7,351.3 346.0,238.0 346.3,336.2 346.6,252.6 346.9,336.1 347.2,272.3 347.5,313.7 347.8,241.5 348.1,286.4 348.4,266.3 348.7,297.8 349.0,260.4 349.3,334.8 349.6,262.9 349.9,310.1 350.2,231.8 350.5,277.5 350.8,204.6 351.1,315.3 351.4,234.1 351.7,325.2 352.0,232.2 352.3,334.2 352.6,177.0 352.9,336.2 353.2,187.0 353.5,325.5 353.8,208.7 354.1,306.9 354.4,222.7 354.7,310.8 355.0,233.9 355.3,324.5 355.6,243.3 355.9,296.0 356.2,263.6 356.5,293.9 356.8,259.8 357.1,258.2 357.4,245.1 357.7,315.2 358.0,241.8 358.3,304.1 358.6,250.5 358.9,303.8 359.2,252.6 359.5,316.4 359.8,272.0 360.1,335.0 360.4,253.4 360.7,307.2 361.0,219.0 361.3,260.6 361.6,231.5 361.9,253.8 362.2,235.8 362.5,293.1 362.8,227.7 363.1,323.2 363.4,233.2 363.7,292.7 364.0,233.9 364.3,297.1 364.6,239.0 364.9,302.3 365.2,239.5 365.5,292.9 365.8,239.8 366.1,288.1 366.4,219.9 366.7,255.2 367.0,190.0 367.3,294.0 367.6,214.1 367.9,305.4 368.2,218.2 368.5,305.3 368.8,251.8 369.1,340.0 369.4,231.6 369.7,330.4 370.0,232.5 370.3,290.2 370.6,226.6 370.9,312.0 371.2,242.1 371.5,288.0 371.8,235.8 372.1,252.3 372.4,241.5 372.7,271.5 373.0,213.0 373.3,266.5 373.6,215.6 373.9,307.0 374.2,215.0 374.5,319.6 374.8,241.1 375.1,316.1 375.4,264.8 375.7,299.3 376.0,213.0 376.3,345.0 376.6,231.9 376.9,336.8 377.2,239.3 377.5,300.6 377.8,227.3 378.1,290.9 378.4,245.8 378.7,304.9 379.0,246.8 379.3,298.0 379.6,249.7 379.9,297.4 380.2,243.9 380.5,280.4 380.8,223.7 381.1,284.6 381.4,214.2 381.7,277.0 382.0,204.8 382.3,320.0 382.6,177.0 382.9,268.6 383.2,195.6 383.5,259.7 383.8,183.6 384.1,266.6 384.4,193.9 384.7,298.9 385.0,188.2 385.3,284.9 385.6,196.5 385.9,284.1 386.2,202.6 386.5,285.4 386.8,204.9 387.1,273.0 387.4,223.7 387.7,296.8 388.0,239.8 388.3,298.3 388.6,234.4 388.9,252.2 389.2,241.3 389.5,275.0 389.8,242.4 390.1,280.1 390.4,239.1 390.7,285.1 391.0,231.6 391.3,305.0 391.6,234.7 391.9,300.8 392.2,221.4 392.5,288.4 392.8,221.0 393.1,285.1 393.4,209.6 393.7,281.7 394.0,217.7 394.3,292.0 394.6,199.0 394.9,269.9 395.2,228.0 395.5,282.6 395.8,229.6 396.1,277.4 396.4,214.0 396.7,282.5 397.0,217.7 397.3,283.2 397.6,224.2 397.9,290.8 398.2,238.2 398.5,291.9 398.8,218.5 399.1,281.9 399.4,245.7 399.7,302.7 400.0,210.0 400.3,305.0 400.6,245.0 400.9,271.7 401.2,227.1 401.5,267.1 401.8,241.9 402.1,265.6 402.4,243.2 402.7,282.7 403.0,239.4 403.3,264.5 403.6,241.6 403.9,276.1 404.2,246.7 404.5,263.6 404.8,276.5 405.1,281.7 405.4,255.0 405.7,303.8 406.0,246.1 406.3,289.0 406.6,261.3 406.9,323.8 407.2,271.6 407.5,311.5 407.8,279.9 408.1,311.2 408.4,286.3 408.7,314.8 409.0,293.0 409.3,319.8 409.6,293.3 409.9,310.8 410.2,298.0 410.5,324.9 410.8,306.3 411.1,341.1 411.4,294.9 411.7,316.2 412.0,294.2 412.3,316.4 412.6,301.2 412.9,348.5 413.2,311.9 413.5,347.0 413.8,312.0 414.1,352.0 414.4,314.2 414.7,339.7 415.0,309.8 415.3,345.6 415.6,313.2 415.9,347.5 416.2,322.0 416.5,344.5 416.8,310.1 417.1,343.4 417.4,314.6 417.7,347.8 418.0,315.7 418.3,352.7 418.6,316.0 418.9,349.7 419.2,325.7 419.5,350.5 419.8,326.6 420.1,343.7 420.4,323.0 420.7,357.0 421.0,326.6 421.3,340.4 421.6,328.5 421.9,356.2 422.2,334.5 422.5,342.7 422.8,326.4 423.1,338.5 423.4,333.1 423.7,342.2 424.0,333.8 424.3,357.1 424.6,337.2 424.9,369.8 425.2,336.3 425.5,362.7 425.8,335.0 426.1,372.2 426.4,338.8 426.7,365.9 427.0,344.8 427.3,368.2 427.6,318.0 427.9,348.4 428.2,334.6 428.5,370.8 428.8,321.9 429.1,373.2 429.4,324.0 429.7,375.3 430.0,320.4 430.3,379.0 430.6,322.7 430.9,377.0 431.2,324.0 431.5,375.1 431.8,318.0 432.1,382.0 432.4,320.7 432.7,361.7 433.0,324.7 433.3,373.9 433.6,326.7 433.9,361.0 434.2,333.6 434.5,376.0 434.8,331.8 435.1,376.8 435.4,343.7 435.7,379.3 436.0,344.2 436.3,369.5 436.6,347.9 436.9,358.5 437.2,349.1 437.5,353.8 437.8,344.2 438.1,378.4 438.4,341.0 438.7,351.6 439.0,346.9 439.3,363.0 439.6,337.8 439.9,382.0 440.2,338.0 440.5,359.0 440.8,337.7 441.1,367.2 441.4,338.3 441.7,363.7 442.0,332.6 442.3,364.5 442.6,327.8 442.9,370.4 443.2,329.2 443.5,371.3 443.8,321.0 444.1,367.6 444.4,322.8 444.7,369.9 445.0,323.9 445.3,366.4 445.6,321.5 445.9,364.0 446.2,322.5 446.5,349.3 446.8,327.8 447.1,365.3 447.4,322.4 447.7,367.3 448.0,321.0 448.3,366.9 448.6,326.9 448.9,370.8 449.2,323.0 449.5,370.3 449.8,334.1 450.1,363.0 450.4,329.5 450.7,367.6 451.0,324.1 451.3,347.3 451.6,346.1 451.9,340.8 452.2,351.5 452.5,359.1 452.8,350.5 453.1,362.2 453.4,340.9 453.7,366.8 454.0,328.8 454.3,372.6 454.6,333.5 454.9,363.3 455.2,331.5 455.5,378.2 455.8,330.0 456.1,382.0 456.4,332.2 456.7,379.0 457.0,326.9 457.3,361.8 457.6,330.4 457.9,373.4 458.2,337.0 458.5,371.7 458.8,320.7 459.1,367.1 459.4,326.6 459.7,355.9 460.0,313.0 460.3,340.0 460.6,327.8 460.9,356.4 461.2,343.9 461.5,364.2 461.8,329.1 462.1,366.8 462.4,326.8 462.7,359.8 463.0,321.0 463.3,349.7 463.6,313.0 463.9,368.0 464.2,319.8 464.5,357.1 464.8,319.1 465.1,346.0 465.4,322.2 465.7,349.5 466.0,327.4 466.3,349.7 466.6,329.3 466.9,354.2 467.2,332.8 467.5,351.8 467.8,333.4 468.1,347.9 468.4,331.8 468.7,350.4 469.0,333.2 469.3,349.5 469.6,330.8 469.9,347.3 470.2,332.1 470.5,350.3 470.8,329.0 471.1,350.1 471.4,333.1 471.7,350.3 472.0,333.4 472.3,346.1 472.6,332.6 472.9,343.3 473.2,337.4 473.5,346.0 473.8,334.7 474.1,353.9 474.4,335.3 474.7,351.9 475.0,335.4 475.3,354.0"/>
<path d="M485.0,323.1 485.3,340.1 485.6,321.0 485.9,329.1 486.2,317.7 486.5,336.0 486.8,308.6 487.1,329.7 487.4,305.7 487.7,339.1 488.0,300.9 488.3,337.2 488.6,297.5 488.9,332.7 489.2,309.8 489.5,336.3 489.8,310.2 490.1,348.2 490.4,315.1 490.7,338.7 491.0,313.9 491.3,347.2 491.6,317.5 491.9,340.9 492.2,323.3 492.5,325.3 492.8,321.4 493.1,327.7 493.4,321.1 493.7,334.2 494.0,327.9 494.3,335.0 494.6,327.9 494.9,338.6 495.2,336.3 495.5,339.1 495.8,328.1 496.1,368.0 496.4,329.1 496.7,350.8 497.0,325.0 497.3,364.9 497.6,328.7 497.9,354.1 498.2,333.3 498.5,343.2 498.8,337.3 499.1,358.2 499.4,347.0 499.7,364.8 500.0,347.6 500.3,370.0"/>
<path d="M539.0,310.1 539.3,309.5 539.6,295.9 539.9,310.3 540.2,286.5 540.5,302.8 540.8,269.0 541.1,300.5 541.4,266.6 541.7,298.3 542.0,271.5 542.3,298.2 542.6,272.7 542.9,343.0 543.2,254.1 543.5,331.9 543.8,225.0 544.1,291.8 544.4,236.4 544.7,341.2 545.0,233.4 545.3,343.0 545.6,243.8 545.9,330.4 546.2,242.8 546.5,304.9 546.8,269.2 547.1,290.9 547.4,264.3 547.7,304.9 548.0,278.0 548.3,310.9 548.6,273.6 548.9,316.6 549.2,274.3 549.5,318.9 549.8,289.2 550.1,338.0 550.4,269.7 550.7,286.8 551.0,265.5 551.3,282.5 551.6,259.9 551.9,279.0 552.2,268.2 552.5,324.0 552.8,253.3 553.1,313.5 553.4,271.3 553.7,319.6 554.0,261.1 554.3,315.2 554.6,260.5 554.9,314.7 555.2,246.9 555.5,311.4 555.8,255.1 556.1,304.1 556.4,246.5 556.7,284.4 557.0,251.7 557.3,289.7 557.6,257.5 557.9,282.8 558.2,243.9 558.5,299.6 558.8,264.5 559.1,303.4 559.4,244.6 559.7,289.6 560.0,240.3 560.3,281.9 560.6,244.3 560.9,316.5 561.2,250.5 561.5,318.8 561.8,227.0 562.1,311.5 562.4,247.2 562.7,271.6 563.0,235.3 563.3,349.0 563.6,264.1 563.9,293.9 564.2,243.5 564.5,289.4 564.8,263.4 565.1,297.3 565.4,267.9 565.7,340.8 566.0,280.8 566.3,333.3 566.6,288.7 566.9,339.1 567.2,268.4 567.5,300.5 567.8,262.0 568.1,345.4 568.4,267.4 568.7,337.0 569.0,273.0 569.3,298.0 569.6,275.4 569.9,377.0 570.2,273.0 570.5,361.7 570.8,278.9 571.1,321.6 571.4,269.6 571.7,354.3 572.0,266.8 572.3,319.2 572.6,278.6 572.9,336.0 573.2,277.2 573.5,344.0 573.8,280.2 574.1,333.4 574.4,267.4 574.7,344.3 575.0,273.3 575.3,337.1 575.6,264.4 575.9,344.1 576.2,270.7 576.5,342.8 576.8,281.7 577.1,340.2 577.4,282.8 577.7,343.4 578.0,268.4 578.3,349.9 578.6,260.9 578.9,377.0 579.2,277.5 579.5,326.7 579.8,249.2 580.1,338.4 580.4,245.9 580.7,347.9 581.0,249.1 581.3,347.8 581.6,211.0 581.9,328.7 582.2,238.4 582.5,347.1 582.8,274.6 583.1,343.5 583.4,262.3 583.7,300.7 584.0,251.4 584.3,305.7 584.6,241.1 584.9,305.8 585.2,248.3 585.5,333.0 585.8,255.0 586.1,319.5 586.4,251.8 586.7,313.4 587.0,256.2 587.3,314.2 587.6,254.8 587.9,323.0 588.2,261.8 588.5,333.2 588.8,300.1 589.1,321.3 589.4,303.9 589.7,315.8 590.0,227.0 590.3,356.2 590.6,267.0 590.9,363.0 591.2,268.9 591.5,350.2 591.8,235.3 592.1,352.7 592.4,238.2 592.7,308.4 593.0,241.7 593.3,339.0 593.6,257.5 593.9,363.0 594.2,255.9 594.5,352.9 594.8,229.2 595.1,341.2 595.4,229.4 595.7,350.7 596.0,227.0 596.3,349.0 596.6,255.4 596.9,358.4 597.2,275.5 597.5,351.5 597.8,277.9 598.1,335.7 598.4,262.1 598.7,352.8 599.0,256.3 599.3,368.0 599.6,268.0 599.9,361.2 600.2,258.9 600.5,340.3 600.8,255.5 601.1,334.2 601.4,259.3 601.7,347.2 602.0,263.0 602.3,332.1 602.6,249.6 602.9,328.3 603.2,263.8 603.5,310.9 603.8,252.1 604.1,327.0 604.4,251.5 604.7,316.1 605.0,250.2 605.3,327.5 605.6,251.4 605.9,291.4 606.2,256.3 606.5,310.8 606.8,260.0 607.1,326.6 607.4,243.9 607.7,298.7 608.0,236.9 608.3,295.4 608.6,258.0 608.9,332.0 609.2,273.2 609.5,264.5 609.8,273.6 610.1,264.3 610.4,256.0 610.7,274.8 611.0,235.0 611.3,304.4 611.6,261.3 611.9,332.0 612.2,253.6 612.5,279.9 612.8,255.5 613.1,296.7 613.4,254.8 613.7,319.3 614.0,269.1 614.3,286.8 614.6,272.4 614.9,271.1 615.2,255.1 615.5,301.4 615.8,255.1 616.1,275.6 616.4,250.8 616.7,306.6 617.0,253.5 617.3,276.0 617.6,256.9 617.9,278.9 618.2,266.1 618.5,312.0 618.8,272.0 619.1,300.5 619.4,267.5 619.7,309.3 620.0,268.6 620.3,308.1 620.6,266.2 620.9,310.7 621.2,282.9 621.5,328.4 621.8,287.6 622.1,327.0 622.4,271.0 622.7,317.1 623.0,290.1 623.3,313.3 623.6,287.2 623.9,335.6 624.2,291.6 624.5,336.6 624.8,308.1 625.1,332.1 625.4,304.9 625.7,346.1 626.0,321.2 626.3,332.3 626.6,318.0 626.9,328.8 627.2,306.0 627.5,333.5 627.8,299.2 628.1,337.3 628.4,301.9 628.7,336.7 629.0,304.7 629.3,326.2 629.6,311.7 629.9,352.0 630.2,302.1 630.5,321.7 630.8,304.2 631.1,340.3 631.4,301.0 631.7,347.6 632.0,298.8 632.3,335.0 632.6,306.5 632.9,330.4 633.2,311.1 633.5,311.0 633.8,295.9 634.1,337.3 634.4,292.3 634.7,339.9 635.0,297.7 635.3,318.5 635.6,297.4 635.9,317.6 636.2,296.0 636.5,333.3 636.8,290.3 637.1,330.4 637.4,296.8 637.7,320.6 638.0,288.0 638.3,324.9 638.6,304.4 638.9,327.6 639.2,303.3 639.5,322.6 639.8,304.1 640.1,312.0 640.4,293.9 640.7,323.5 641.0,295.2 641.3,326.9 641.6,294.8 641.9,323.5 642.2,295.2 642.5,313.0 642.8,289.2 643.1,330.4 643.4,293.9 643.7,328.4 644.0,296.7 644.3,325.4 644.6,295.0 644.9,318.4 645.2,300.9 645.5,326.1 645.8,285.0 646.1,328.5 646.4,303.1 646.7,335.6 647.0,309.0 647.3,337.2 647.6,301.8 647.9,337.5 648.2,296.9 648.5,340.8 648.8,299.7 649.1,332.8 649.4,301.1 649.7,305.6 650.0,287.7 650.3,345.0 650.6,295.1 650.9,343.1 651.2,292.7 651.5,344.7 651.8,294.6 652.1,335.7 652.4,297.0 652.7,332.2 653.0,288.9 653.3,333.7 653.6,292.6 653.9,345.0 654.2,310.7 654.5,316.2 654.8,299.0 655.1,322.7 655.4,295.3 655.7,315.3 656.0,299.2 656.3,311.0 656.6,299.6 656.9,312.6 657.2,304.5 657.5,313.6 657.8,304.3 658.1,325.6 658.4,305.6 658.7,328.1 659.0,308.1 659.3,331.4 659.6,317.1 659.9,330.8 660.2,319.8 660.5,333.1 660.8,319.5 661.1,340.5 661.4,311.0 661.7,338.0 662.0,318.1 662.3,344.6 662.6,318.0 662.9,336.5 663.2,313.2 663.5,323.4 663.8,318.9 664.1,323.9 664.4,316.6 664.7,324.4 665.0,319.1 665.3,324.9 665.6,320.6 665.9,334.5 666.2,324.7 666.5,326.4 666.8,324.7 667.1,337.0 667.4,317.0 667.7,339.9 668.0,323.1 668.3,350.7 668.6,328.8 668.9,349.3 669.2,321.8 669.5,355.4 669.8,321.8 670.1,364.5 670.4,329.4 670.7,362.9 671.0,329.8 671.3,363.5 671.6,329.7 671.9,351.2 672.2,333.3 672.5,350.7 672.8,325.5 673.1,346.4 673.4,335.4 673.7,379.2 674.0,334.6 674.3,382.0 674.6,331.6 674.9,344.0 675.2,327.1 675.5,375.0 675.8,327.3 676.1,374.7 676.4,333.6 676.7,381.5 677.0,323.3 677.3,381.2 677.6,323.9 677.9,369.2 678.2,334.2 678.5,372.6 678.8,325.3 679.1,374.3 679.4,328.6 679.7,376.7 680.0,327.1 680.3,374.6 680.6,341.4 680.9,366.9 681.2,325.5 681.5,361.0 681.8,316.9 682.1,370.0 682.4,322.1 682.7,366.6 683.0,312.9 683.3,346.4 683.6,311.0 683.9,336.7 684.2,323.0 684.5,343.1 684.8,321.7 685.1,357.0 685.4,327.1 685.7,352.9 686.0,317.0 686.3,357.0 686.6,313.3 686.9,374.3 687.2,313.6 687.5,356.7 687.8,332.3 688.1,375.5 688.4,337.9 688.7,367.4 689.0,322.8 689.3,368.1 689.6,319.9 689.9,360.2 690.2,325.1 690.5,347.1 690.8,318.3 691.1,357.4 691.4,318.5 691.7,373.6 692.0,329.3 692.3,371.9 692.6,324.0 692.9,372.0 693.2,333.0 693.5,373.7 693.8,331.9 694.1,343.7 694.4,338.8 694.7,341.0 695.0,332.8 695.3,342.0 695.6,328.8 695.9,348.4 696.2,332.5 696.5,356.7 696.8,332.8 697.1,351.1 697.4,332.3 697.7,347.0 698.0,341.2 698.3,349.9 698.6,349.6 698.9,354.2 699.2,345.6 699.5,363.9 699.8,346.4 700.1,360.9 700.4,346.2 700.7,373.7 701.0,339.7 701.3,370.5 701.6,336.0 701.9,375.1 702.2,340.2 702.5,361.9 702.8,338.8 703.1,372.5 703.4,338.6 703.7,372.5 704.0,349.5 704.3,374.7 704.6,342.3 704.9,370.8 705.2,351.1 705.5,375.1 705.8,346.3 706.1,366.7 706.4,340.9 706.7,369.4 707.0,341.3 707.3,373.6 707.6,343.0 707.9,369.7 708.2,343.2 708.5,355.4 708.8,349.7 709.1,352.2 709.4,352.6 709.7,350.4 710.0,356.1 710.3,351.0 710.6,348.2 710.9,353.0 711.2,346.3 711.5,358.6 711.8,338.0 712.1,353.9 712.4,344.1 712.7,365.2 713.0,349.8 713.3,361.5 713.6,340.2 713.9,365.0 714.2,343.2 714.5,375.6 714.8,345.1 715.1,369.2 715.4,348.6 715.7,367.9 716.0,346.6 716.3,364.8 716.6,357.0 716.9,363.0 717.2,356.6 717.5,353.5 717.8,354.0 718.1,357.1 718.4,352.2 718.7,365.8 719.0,347.4 719.3,365.1 719.6,347.2 719.9,357.0 720.2,343.8 720.5,361.6 720.8,342.0 721.1,363.2 721.4,342.7 721.7,372.9 722.0,338.9 722.3,372.5 722.6,340.0 722.9,371.2 723.2,337.8 723.5,372.2 723.8,337.2 724.1,368.3 724.4,344.3 724.7,362.1 725.0,336.9 725.3,359.3 725.6,337.0 725.9,349.9 726.2,335.3 726.5,345.4 726.8,334.9 727.1,355.9 727.4,342.9 727.7,360.4 728.0,338.8 728.3,368.5 728.6,334.4 728.9,370.6 729.2,333.9 729.5,361.4 729.8,334.2 730.1,369.0 730.4,333.4 730.7,370.9 731.0,331.8 731.3,366.3 731.6,330.5 731.9,373.2 732.2,342.5 732.5,366.1 732.8,345.5 733.1,371.0 733.4,337.7 733.7,365.3 734.0,330.8 734.3,344.5 734.6,334.5 734.9,361.4 735.2,339.1 735.5,365.4 735.8,328.0 736.1,365.8 736.4,337.6 736.7,357.0 737.0,335.2 737.3,350.2 737.6,329.5 737.9,347.5 738.2,330.8 738.5,361.3 738.8,332.5 739.1,351.0 739.4,330.8 739.7,343.1 740.0,337.0 740.3,346.6 740.6,332.7 740.9,340.3 741.2,329.9 741.5,348.3 741.8,321.4 742.1,353.3 742.4,332.2 742.7,354.0 743.0,326.4 743.3,360.5 743.6,323.4 743.9,364.8 744.2,316.0 744.5,336.8 744.8,309.5 745.1,334.5 745.4,296.7 745.7,349.5 746.0,301.5 746.3,333.3 746.6,299.9 746.9,335.4 747.2,296.9 747.5,323.4 747.8,283.0 748.1,308.1 748.4,289.3 748.7,338.3 749.0,287.3 749.3,337.1 749.6,268.4 749.9,322.7 750.2,272.3 750.5,316.5 750.8,240.9 751.1,281.2 751.4,255.4 751.7,319.3 752.0,246.4 752.3,332.1 752.6,265.4 752.9,319.9 753.2,273.1 753.5,310.2 753.8,217.6 754.1,322.0 754.4,223.5 754.7,289.8 755.0,236.9 755.3,271.8 755.6,263.0 755.9,327.6 756.2,244.6 756.5,293.3 756.8,251.3 757.1,335.0 757.4,234.6 757.7,263.3 758.0,235.3 758.3,299.4 758.6,247.3 758.9,294.6 759.2,241.0 759.5,300.1 759.8,236.1 760.1,268.0 760.4,256.1 760.7,268.3 761.0,221.0 761.3,276.2 761.6,249.0 761.9,298.4 762.2,246.0 762.5,290.5 762.8,228.7 763.1,330.0 763.4,222.9 763.7,291.1 764.0,223.7 764.3,282.6 764.6,214.1 764.9,273.5 765.2,226.1 765.5,281.6 765.8,199.8 766.1,252.3 766.4,195.4 766.7,282.1 767.0,205.2 767.3,333.9 767.6,193.0 767.9,345.9 768.2,217.5 768.5,338.2 768.8,222.5 769.1,348.4 769.4,211.0 769.7,308.9 770.0,225.6 770.3,299.3 770.6,261.8 770.9,358.0 771.2,240.4 771.5,295.5 771.8,246.2 772.1,310.0 772.4,253.7 772.7,313.7 773.0,268.9 773.3,330.0 773.6,271.2 773.9,333.6 774.2,270.3 774.5,335.1 774.8,267.5 775.1,310.5 775.4,269.7 775.7,318.3 776.0,293.9 776.3,340.5 776.6,291.3 776.9,350.0 777.2,280.3 777.5,302.8 777.8,262.0 778.1,322.3 778.4,276.0 778.7,286.7 779.0,267.1 779.3,289.0 779.6,270.7 779.9,301.3 780.2,275.9 780.5,302.8 780.8,272.3 781.1,318.5 781.4,276.5 781.7,335.9 782.0,266.2 782.3,344.7 782.6,262.0 782.9,288.9 783.2,276.2 783.5,336.3 783.8,280.9 784.1,353.5 784.4,301.0 784.7,310.8 785.0,286.3 785.3,365.0 785.6,270.5 785.9,314.3 786.2,267.5 786.5,313.9 786.8,273.9 787.1,338.9 787.4,269.3 787.7,287.5 788.0,272.1 788.3,294.2 788.6,272.0 788.9,314.1 789.2,271.4 789.5,290.7 789.8,276.3 790.1,278.7 790.4,265.5 790.7,290.3 791.0,245.4 791.3,300.5 791.6,250.9 791.9,335.0 792.2,237.3 792.5,288.8 792.8,206.0 793.1,314.0 793.4,216.1 793.7,318.1 794.0,216.0 794.3,303.3 794.6,218.3 794.9,324.9 795.2,220.6 795.5,258.9 795.8,250.1 796.1,259.6 796.4,251.9 796.7,264.7 797.0,269.6 797.3,275.8 797.6,255.7 797.9,274.7 798.2,255.1 798.5,267.7 798.8,245.0 799.1,292.5 799.4,265.4 799.7,300.6 800.0,244.6 800.3,296.6 800.6,250.9 800.9,345.0 801.2,241.4 801.5,271.2 801.8,257.6 802.1,312.2 802.4,253.6 802.7,323.5 803.0,259.3 803.3,291.4 803.6,259.0 803.9,306.3 804.2,253.8 804.5,321.7 804.8,214.2 805.1,270.6 805.4,210.4 805.7,308.3 806.0,209.2 806.3,294.5 806.6,187.0 806.9,326.2 807.2,217.5 807.5,296.1 807.8,205.6 808.1,313.0 808.4,201.7 808.7,306.3 809.0,207.4 809.3,288.1 809.6,219.4 809.9,350.0 810.2,223.4 810.5,277.4 810.8,223.0 811.1,276.9 811.4,236.4 811.7,281.2 812.0,258.8 812.3,264.0 812.6,254.6 812.9,285.0 813.2,269.4 813.5,310.3 813.8,275.0 814.1,323.2 814.4,265.3 814.7,327.9 815.0,258.4 815.3,325.4 815.6,248.2 815.9,352.0 816.2,245.6 816.5,337.2 816.8,249.1 817.1,323.9 817.4,227.0 817.7,304.1 818.0,243.0 818.3,272.9 818.6,254.7 818.9,254.2 819.2,235.6 819.5,309.1 819.8,193.0 820.1,320.9 820.4,221.4 820.7,299.1 821.0,229.9 821.3,315.5 821.6,240.9 821.9,319.4 822.2,281.3 822.5,317.0 822.8,264.4 823.1,305.6 823.4,271.8 823.7,322.1 824.0,219.9 824.3,345.0 824.6,241.7 824.9,266.6 825.2,276.4 825.5,302.7 825.8,280.5 826.1,337.9 826.4,290.6 826.7,315.7 827.0,282.6 827.3,306.0 827.6,256.6 827.9,313.6 828.2,282.1 828.5,314.1 828.8,270.0 829.1,325.0 829.4,278.4 829.7,314.4 830.0,270.1 830.3,313.5 830.6,275.2 830.9,302.3 831.2,277.8 831.5,329.7 831.8,287.8 832.1,337.5 832.4,291.0 832.7,329.1 833.0,294.4 833.3,341.9 833.6,285.8 833.9,345.0 834.2,283.3 834.5,339.9 834.8,288.6 835.1,340.5 835.4,298.1 835.7,322.3 836.0,296.7 836.3,311.0 836.6,302.2 836.9,319.5 837.2,301.5 837.5,325.3 837.8,303.2 838.1,322.3 838.4,300.9 838.7,341.1 839.0,299.6 839.3,345.5 839.6,300.6 839.9,339.5 840.2,307.7 840.5,335.6 840.8,309.1 841.1,332.2 841.4,321.3 841.7,321.5 842.0,325.3 842.3,331.2 842.6,315.8 842.9,337.3 843.2,313.0 843.5,363.0 843.8,325.8 844.1,363.8 844.4,330.2 844.7,366.4 845.0,337.5 845.3,365.0 845.6,336.0 845.9,368.0 846.2,336.5 846.5,363.8 846.8,329.3 847.1,365.5 847.4,335.8 847.7,360.0 848.0,325.0 848.3,355.3 848.6,339.7 848.9,354.9 849.2,341.2 849.5,353.3 849.8,340.8 850.1,358.9 850.4,338.8 850.7,354.9 851.0,337.3 851.3,346.6 851.6,341.3 851.9,353.5 852.2,339.3 852.5,341.9 852.8,335.5 853.1,349.9 853.4,335.7 853.7,350.5 854.0,334.1 854.3,354.9 854.6,330.6 854.9,348.7 855.2,333.8 855.5,351.4 855.8,333.0 856.1,341.2 856.4,336.6 856.7,342.8 857.0,328.3 857.3,336.0 857.6,325.7 857.9,331.0 858.2,321.8 858.5,337.8 858.8,326.1 859.1,354.3 859.4,325.3 859.7,351.3 860.0,326.9 860.3,349.4 860.6,323.0 860.9,358.0 861.2,313.7 861.5,347.7 861.8,307.0 862.1,348.0 862.4,313.6 862.7,334.0 863.0,319.9 863.3,343.8 863.6,313.0 863.9,339.1 864.2,309.4 864.5,341.8 864.8,315.9 865.1,341.6 865.4,313.4 865.7,342.5 866.0,315.2 866.3,345.6 866.6,316.7 866.9,342.7 867.2,321.8 867.5,340.7 867.8,320.0 868.1,335.8 868.4,319.6 868.7,346.3 869.0,313.5 869.3,349.3 869.6,298.0 869.9,348.9 870.2,311.0 870.5,345.3 870.8,314.8 871.1,352.3 871.4,323.9 871.7,324.6 872.0,315.9 872.3,355.0 872.6,298.0 872.9,339.7 873.2,308.4 873.5,347.6 873.8,307.6 874.1,334.1 874.4,312.7 874.7,341.2 875.0,320.0 875.3,343.1 875.6,332.2 875.9,350.7 876.2,340.6 876.5,369.9 876.8,345.2 877.1,379.0 877.4,339.6 877.7,368.8 878.0,339.1 878.3,369.0 878.6,333.3 878.9,363.2 879.2,335.5 879.5,341.7 879.8,349.6 880.1,345.5 880.4,341.1 880.7,355.6 881.0,338.6 881.3,354.2 881.6,325.2 881.9,357.0 882.2,324.3 882.5,350.3 882.8,310.0 883.1,360.0 883.4,317.0 883.7,342.4 884.0,313.4 884.3,342.8 884.6,324.3 884.9,345.3 885.2,323.2 885.5,346.8 885.8,333.8 886.1,349.5 886.4,324.6 886.7,357.1 887.0,334.3 887.3,368.0 887.6,318.0 887.9,357.9 888.2,318.5 888.5,357.8 888.8,323.9 889.1,346.5 889.4,330.3 889.7,334.2 890.0,333.5 890.3,349.5 890.6,333.8 890.9,348.4 891.2,328.2 891.5,354.1 891.8,329.8 892.1,358.4 892.4,329.8 892.7,354.6 893.0,325.3 893.3,361.8 893.6,330.7 893.9,362.0 894.2,340.5 894.5,364.8 894.8,344.3 895.1,370.6 895.4,348.1 895.7,368.7 896.0,350.4 896.3,368.4 896.6,340.8 896.9,355.1 897.2,339.3 897.5,365.3 897.8,339.2 898.1,362.6 898.4,337.8 898.7,374.3 899.0,342.4 899.3,368.9 899.6,343.2 899.9,372.8 900.2,344.3 900.5,369.6 900.8,331.0 901.1,375.0 901.4,334.9 901.7,374.8 902.0,336.3 902.3,356.0 902.6,332.7 902.9,372.1 903.2,337.7 903.5,371.4 903.8,331.0 904.1,369.1 904.4,342.1 904.7,380.5 905.0,346.1 905.3,382.0 905.6,359.5 905.9,378.0 906.2,367.0 906.5,379.5 906.8,364.1 907.1,376.5 907.4,366.8 907.7,377.8 908.0,364.1 908.3,374.8 908.6,365.4 908.9,377.0 909.2,368.2 909.5,367.5 909.8,365.7 910.1,369.9 910.4,359.1 910.7,376.3 911.0,357.6 911.3,381.0 911.6,351.5 911.9,377.4 912.2,355.5 912.5,377.5 912.8,325.0 913.1,382.0 913.4,338.1 913.7,363.9 914.0,339.6 914.3,363.9 914.6,335.2 914.9,345.1 915.2,332.7 915.5,347.7 915.8,331.8 916.1,350.9 916.4,330.8 916.7,353.1 917.0,326.8 917.3,356.8 917.6,319.0 917.9,355.5 918.2,321.5 918.5,342.1 918.8,326.7 919.1,364.0 919.4,325.7 919.7,331.9 920.0,323.9 920.3,334.1 920.6,321.6 920.9,327.6 921.2,320.5 921.5,325.0 921.8,312.7 922.1,325.7 922.4,312.6 922.7,323.6 923.0,304.0 923.3,322.5 923.6,309.5 923.9,336.0 924.2,316.7 924.5,352.1 924.8,311.4 925.1,346.9 925.4,317.3 925.7,358.1 926.0,316.4 926.3,348.3 926.6,320.8 926.9,366.1 927.2,330.8 927.5,357.7 927.8,337.8 928.1,353.4 928.4,329.3 928.7,346.1 929.0,341.0 929.3,358.9 929.6,339.8 929.9,371.6 930.2,354.5 930.5,378.9 930.8,350.7 931.1,371.6 931.4,355.8 931.7,377.2 932.0,359.3 932.3,382.0 932.6,357.5 932.9,379.7 933.2,355.0 933.5,373.4 933.8,361.1 934.1,367.0 934.4,361.6 934.7,369.7 935.0,355.7 935.3,374.8 935.6,354.9 935.9,375.7 936.2,354.3 936.5,377.4 936.8,351.8 937.1,378.4 937.4,353.2 937.7,373.4 938.0,351.3 938.3,376.4 938.6,354.1 938.9,379.8 939.2,354.3 939.5,362.4 939.8,349.9 940.1,366.3 940.4,347.2 940.7,365.2 941.0,343.0 941.3,380.6 941.6,337.2 941.9,371.1 942.2,336.0 942.5,343.2 942.8,322.0 943.1,351.9 943.4,327.0 943.7,361.7 944.0,331.5 944.3,365.8 944.6,346.6 944.9,370.4 945.2,363.2 945.5,378.5 945.8,363.1 946.1,379.3 946.4,366.2 946.7,380.8 947.0,361.6 947.3,378.7 947.6,356.2 947.9,368.7 948.2,349.2 948.5,369.7 948.8,351.2 949.1,380.3 949.4,344.0 949.7,378.3 950.0,345.9 950.3,382.0 950.6,337.0 950.9,367.1 951.2,340.9 951.5,367.5 951.8,341.8 952.1,377.8 952.4,340.3 952.7,374.5 953.0,337.0 953.3,379.1 953.6,346.9 953.9,357.7 954.2,344.4 954.5,359.7 954.8,352.4 955.1,366.5 955.4,353.0 955.7,376.5 956.0,351.6 956.3,374.8 956.6,355.5 956.9,370.9 957.2,352.8 957.5,368.9 957.8,349.9 958.1,368.0 958.4,352.8 958.7,372.5 959.0,350.6 959.3,375.9 959.6,354.1 959.9,382.0 960.2,363.7 960.5,377.9 960.8,362.4 961.1,374.1 961.4,357.7 961.7,376.9 962.0,349.1 962.3,356.9 962.6,337.0 962.9,363.4 963.2,340.5 963.5,362.8 963.8,343.6 964.1,349.5 964.4,342.1 964.7,349.4 965.0,342.9 965.3,349.0 965.6,344.8 965.9,361.5 966.2,341.9 966.5,368.2 966.8,336.7 967.1,365.2 967.4,333.9 967.7,360.9 968.0,337.2 968.3,366.3 968.6,334.0 968.9,348.2 969.2,333.7 969.5,364.8 969.8,331.7 970.1,366.0 970.4,324.2 970.7,369.1 971.0,324.0 971.3,364.3 971.6,322.0 971.9,372.0 972.2,323.9 972.5,354.0 972.8,329.5 973.1,351.8 973.4,323.0 973.7,351.3 974.0,323.4 974.3,358.4 974.6,326.7 974.9,361.8 975.2,325.6 975.5,343.4 975.8,317.8 976.1,334.1 976.4,329.3 976.7,345.8 977.0,295.0 977.3,359.4 977.6,306.3 977.9,357.0 978.2,304.9 978.5,366.3 978.8,315.3 979.1,328.0 979.4,300.5 979.7,344.9 980.0,304.0 980.3,369.0 980.6,305.0 980.9,319.0 981.2,312.1 981.5,322.7 981.8,290.1 982.1,310.9 982.4,281.9 982.7,315.7 983.0,274.2 983.3,292.3 983.6,274.3 983.9,314.6 984.2,273.6 984.5,328.0 984.8,273.2 985.1,314.0 985.4,275.3 985.7,324.3 986.0,264.5 986.3,319.5 986.6,261.5 986.9,311.1 987.2,253.0 987.5,290.2 987.8,280.7 988.1,311.8 988.4,275.1 988.7,325.0 989.0,230.8 989.3,372.0 989.6,245.9 989.9,334.4 990.2,213.7 990.5,358.5 990.8,234.1 991.1,354.0 991.4,219.0 991.7,357.8 992.0,197.0 992.3,346.2 992.6,219.1 992.9,317.8 993.2,211.9 993.5,308.1 993.8,218.0 994.1,329.8 994.4,223.1 994.7,322.2 995.0,261.3 995.3,293.7 995.6,266.9 995.9,267.7 996.2,255.6 996.5,273.5 996.8,246.0 997.1,282.8 997.4,251.0 997.7,298.7 998.0,242.3 998.3,318.6 998.6,243.0 998.9,343.0 999.2,227.0 999.5,320.9 999.8,222.0 1000.1,290.4 1000.4,240.8 1000.7,312.5 1001.0,240.7 1001.3,330.6 1001.6,231.2 1001.9,310.5 1002.2,239.0 1002.5,309.1 1002.8,249.3 1003.1,286.6 1003.4,261.9 1003.7,275.5 1004.0,242.2 1004.3,325.9 1004.6,245.0 1004.9,346.0 1005.2,246.3 1005.5,334.0 1005.8,250.8 1006.1,326.8 1006.4,250.1 1006.7,294.1 1007.0,257.8 1007.3,302.2 1007.6,255.1 1007.9,313.2 1008.2,278.4 1008.5,272.0 1008.8,268.2 1009.1,282.2 1009.4,257.4 1009.7,296.4 1010.0,256.9 1010.3,315.8 1010.6,281.6 1010.9,334.3 1011.2,274.3 1011.5,317.6 1011.8,262.0 1012.1,356.0 1012.4,285.5 1012.7,309.6 1013.0,283.1 1013.3,295.4 1013.6,273.9 1013.9,329.6 1014.2,272.0 1014.5,343.7 1014.8,270.4 1015.1,302.9 1015.4,265.8 1015.7,323.2 1016.0,275.1 1016.3,356.0 1016.6,245.7 1016.9,271.5 1017.2,236.3 1017.5,268.1 1017.8,232.6 1018.1,265.0 1018.4,232.9 1018.7,287.2 1019.0,222.0 1019.3,271.8 1019.6,259.1 1019.9,334.3 1020.2,248.9 1020.5,314.1 1020.8,251.1 1021.1,327.3 1021.4,230.6 1021.7,270.5 1022.0,227.9 1022.3,369.0 1022.6,213.0 1022.9,314.9 1023.2,250.3 1023.5,292.9 1023.8,227.9 1024.1,326.0 1024.4,235.7 1024.7,332.9 1025.0,226.6 1025.3,314.9 1025.6,247.4 1025.9,309.6 1026.2,246.6 1026.5,337.0 1026.8,257.4 1027.1,334.1 1027.4,243.2 1027.7,305.1 1028.0,244.1 1028.3,303.8 1028.6,222.0 1028.9,320.3 1029.2,229.2 1029.5,283.7 1029.8,244.6 1030.1,275.1 1030.4,249.8 1030.7,271.5 1031.0,281.3 1031.3,353.0 1031.6,267.0 1031.9,295.1 1032.2,267.5 1032.5,309.8 1032.8,253.3 1033.1,318.9 1033.4,243.9 1033.7,336.8 1034.0,235.3 1034.3,302.5 1034.6,226.2 1034.9,324.2 1035.2,213.0 1035.5,332.6 1035.8,217.3 1036.1,253.6 1036.4,236.1 1036.7,272.7 1037.0,231.5 1037.3,337.0 1037.6,236.7 1037.9,307.3 1038.2,248.2 1038.5,319.1 1038.8,261.5 1039.1,317.2 1039.4,260.5 1039.7,277.2 1040.0,262.7 1040.3,294.0 1040.6,265.5 1040.9,287.5 1041.2,280.2 1041.5,283.7 1041.8,270.9 1042.1,284.9 1042.4,278.7 1042.7,313.0 1043.0,280.7 1043.3,320.4 1043.6,289.6 1043.9,343.0 1044.2,285.7 1044.5,322.9 1044.8,299.9 1045.1,324.0 1045.4,307.9 1045.7,316.9 1046.0,313.5 1046.3,321.4 1046.6,300.7 1046.9,329.4 1047.2,296.2 1047.5,327.7 1047.8,298.1 1048.1,326.2 1048.4,308.2 1048.7,321.1 1049.0,311.1 1049.3,330.9 1049.6,305.4 1049.9,334.5 1050.2,306.1 1050.5,335.1 1050.8,306.1 1051.1,343.1 1051.4,309.9 1051.7,341.5 1052.0,317.1 1052.3,342.5 1052.6,320.1 1052.9,348.8 1053.2,320.9 1053.5,351.2 1053.8,324.0 1054.1,348.3 1054.4,325.1 1054.7,342.7 1055.0,325.5 1055.3,345.3 1055.6,323.0 1055.9,347.8 1056.2,328.6 1056.5,348.5 1056.8,336.8 1057.1,348.5 1057.4,334.7 1057.7,350.3 1058.0,337.6 1058.3,363.0 1058.6,340.1 1058.9,367.1 1059.2,340.0 1059.5,357.9 1059.8,337.7 1060.1,359.7 1060.4,340.4 1060.7,364.4 1061.0,344.9 1061.3,364.7 1061.6,348.5 1061.9,370.3 1062.2,344.7 1062.5,369.5 1062.8,351.3 1063.1,362.5 1063.4,351.6 1063.7,374.8 1064.0,351.2 1064.3,374.2 1064.6,358.7 1064.9,382.0 1065.2,358.9 1065.5,381.7 1065.8,356.2 1066.1,381.8 1066.4,359.6 1066.7,373.0 1067.0,360.2 1067.3,375.6 1067.6,361.5 1067.9,374.2 1068.2,364.4 1068.5,380.6 1068.8,364.7 1069.1,378.8 1069.4,366.5 1069.7,377.4 1070.0,367.6 1070.3,378.0 1070.6,367.4 1070.9,374.1 1071.2,362.8 1071.5,371.6 1071.8,363.0 1072.1,374.9 1072.4,361.2 1072.7,370.5 1073.0,358.6 1073.3,372.4 1073.6,355.8 1073.9,376.4 1074.2,353.0 1074.5,380.7 1074.8,351.4 1075.1,363.1 1075.4,357.2 1075.7,378.8 1076.0,337.0 1076.3,371.1 1076.6,339.4 1076.9,382.0 1077.2,343.2 1077.5,350.2 1077.8,345.5 1078.1,362.0 1078.4,347.4 1078.7,353.7 1079.0,345.1 1079.3,346.3 1079.6,339.7 1079.9,345.5 1080.2,330.4 1080.5,341.2 1080.8,327.1 1081.1,347.2 1081.4,320.1 1081.7,338.4 1082.0,311.0 1082.3,335.8 1082.6,320.5 1082.9,343.9 1083.2,326.1 1083.5,336.3 1083.8,323.8 1084.1,347.6 1084.4,319.5 1084.7,336.5 1085.0,315.1 1085.3,343.4 1085.6,317.1 1085.9,342.4 1086.2,318.3 1086.5,346.2 1086.8,315.9 1087.1,352.4 1087.4,320.2 1087.7,356.1 1088.0,320.8 1088.3,372.6 1088.6,333.1 1088.9,382.0 1089.2,340.7 1089.5,368.9 1089.8,337.5 1090.1,347.8 1090.4,339.9 1090.7,351.0 1091.0,351.2 1091.3,353.1 1091.6,348.1 1091.9,354.2 1092.2,343.4 1092.5,369.8 1092.8,354.7 1093.1,373.7 1093.4,354.5 1093.7,379.8 1094.0,355.2 1094.3,370.8 1094.6,355.5 1094.9,375.5 1095.2,351.5 1095.5,369.9 1095.8,356.4 1096.1,377.1 1096.4,364.8 1096.7,379.1 1097.0,364.8 1097.3,376.0 1097.6,369.4 1097.9,377.5 1098.2,373.1 1098.5,380.8 1098.8,372.4 1099.1,381.2 1099.4,374.2 1099.7,378.8 1100.0,373.6 1100.3,379.7 1100.6,373.7 1100.9,380.9 1101.2,376.1 1101.5,381.4 1101.8,378.3 1102.1,381.9 1102.4,376.1 1102.7,379.3 1103.0,369.7 1103.3,375.1 1103.6,365.0 1103.9,376.6 1104.2,365.8 1104.5,372.3 1104.8,361.5 1105.1,371.5 1105.4,358.9 1105.7,378.0 1106.0,355.9 1106.3,380.0 1106.6,361.7 1106.9,374.1 1107.2,359.3 1107.5,368.8 1107.8,360.1 1108.1,363.5 1108.4,360.8 1108.7,358.1 1109.0,356.8 1109.3,354.4 1109.6,345.1 1109.9,359.7 1110.2,324.7 1110.5,376.7 1110.8,311.0 1111.1,362.9 1111.4,301.0 1111.7,364.5 1112.0,328.0 1112.3,352.7 1112.6,333.7 1112.9,347.1 1113.2,344.3 1113.5,348.5 1113.8,350.4 1114.1,350.1 1114.4,349.0 1114.7,356.0 1115.0,355.7 1115.3,371.9 1115.6,360.1 1115.9,371.8 1116.2,359.7 1116.5,381.3 1116.8,359.4 1117.1,376.4 1117.4,355.7 1117.7,365.7 1118.0,356.3 1118.3,368.4 1118.6,354.2 1118.9,363.0 1119.2,352.4 1119.5,359.4 1119.8,346.0 1120.1,365.4 1120.4,358.0 1120.7,374.8 1121.0,350.0 1121.3,377.7 1121.6,346.6 1121.9,373.4 1122.2,348.1 1122.5,380.8 1122.8,347.7 1123.1,379.6 1123.4,347.3 1123.7,381.4 1124.0,351.8 1124.3,377.9 1124.6,346.4 1124.9,379.3 1125.2,347.0 1125.5,375.6 1125.8,346.3 1126.1,376.2 1126.4,355.6 1126.7,369.8 1127.0,347.2 1127.3,380.4 1127.6,346.0 1127.9,366.0 1128.2,353.1 1128.5,368.9 1128.8,350.5 1129.1,379.2 1129.4,353.8 1129.7,375.1 1130.0,358.1 1130.3,375.3 1130.6,357.8 1130.9,379.7 1131.2,358.0 1131.5,376.1 1131.8,357.6 1132.1,378.0 1132.4,356.1 1132.7,377.5 1133.0,355.5 1133.3,379.2 1133.6,350.9 1133.9,379.5 1134.2,348.3 1134.5,360.2 1134.8,352.3 1135.1,358.2 1135.4,354.5 1135.7,378.1 1136.0,345.5 1136.3,366.6 1136.6,340.1 1136.9,378.2 1137.2,340.2 1137.5,376.2 1137.8,339.8 1138.1,375.5 1138.4,335.4 1138.7,377.8 1139.0,330.6 1139.3,379.7 1139.6,331.6 1139.9,359.0 1140.2,334.6 1140.5,377.9 1140.8,332.7 1141.1,372.7 1141.4,334.7 1141.7,381.7 1142.0,345.5 1142.3,380.1 1142.6,338.5 1142.9,382.0 1143.2,331.1 1143.5,361.5 1143.8,336.6 1144.1,359.9 1144.4,333.3 1144.7,359.7 1145.0,325.3 1145.3,357.6 1145.6,320.1 1145.9,363.6 1146.2,324.7 1146.5,359.4 1146.8,327.6 1147.1,359.7 1147.4,321.5 1147.7,341.1 1148.0,314.5 1148.3,339.0 1148.6,320.0 1148.9,341.0 1149.2,318.1 1149.5,353.7 1149.8,314.3 1150.1,345.9 1150.4,310.9 1150.7,361.1 1151.0,317.3 1151.3,352.1 1151.6,311.4 1151.9,369.0 1152.2,314.8 1152.5,350.4 1152.8,304.1 1153.1,361.1 1153.4,304.6 1153.7,359.9 1154.0,298.0 1154.3,340.3 1154.6,300.7 1154.9,339.0 1155.2,302.7 1155.5,332.5 1155.8,306.5 1156.1,330.9 1156.4,305.6 1156.7,340.9 1157.0,305.4 1157.3,338.6 1157.6,308.8 1157.9,349.4 1158.2,313.5 1158.5,345.1 1158.8,315.5 1159.1,339.7 1159.4,322.4 1159.7,353.0 1160.0,334.6 1160.3,356.6 1160.6,333.6 1160.9,362.0 1161.2,336.3 1161.5,355.7 1161.8,329.5 1162.1,359.9 1162.4,339.3 1162.7,346.5 1163.0,342.7 1163.3,344.9 1163.6,347.6 1163.9,357.4 1164.2,343.8 1164.5,352.4 1164.8,334.4 1165.1,350.3 1165.4,332.1 1165.7,349.6 1166.0,320.0 1166.3,352.7 1166.6,331.5 1166.9,356.2 1167.2,330.0 1167.5,358.4 1167.8,329.8 1168.1,359.5 1168.4,322.1 1168.7,350.0 1169.0,320.0 1169.3,348.1 1169.6,321.6 1169.9,343.4 1170.2,319.8 1170.5,342.3 1170.8,316.3 1171.1,337.1 1171.4,313.9 1171.7,338.0 1172.0,313.9 1172.3,337.1 1172.6,303.5 1172.9,335.6 1173.2,306.6 1173.5,331.9 1173.8,302.2 1174.1,347.0 1174.4,285.8 1174.7,326.1 1175.0,278.6 1175.3,327.8 1175.6,279.8 1175.9,303.0 1176.2,273.8 1176.5,313.9 1176.8,277.8 1177.1,332.3 1177.4,285.9 1177.7,328.8 1178.0,270.7 1178.3,309.8 1178.6,280.1 1178.9,330.1 1179.2,279.4 1179.5,335.8 1179.8,268.1 1180.1,340.0 1180.4,271.4 1180.7,324.5 1181.0,275.2 1181.3,313.0 1181.6,259.9 1181.9,283.0 1182.2,253.1 1182.5,285.0 1182.8,259.8 1183.1,280.2 1183.4,256.3 1183.7,285.9 1184.0,245.6 1184.3,268.3 1184.6,243.2 1184.9,261.2 1185.2,241.6 1185.5,261.3 1185.8,232.0 1186.1,261.8 1186.4,242.4 1186.7,288.9 1187.0,244.1 1187.3,283.9 1187.6,268.9 1187.9,268.6 1188.2,255.8 1188.5,273.0 1188.8,251.4 1189.1,340.0 1189.4,259.0 1189.7,306.2 1190.0,263.5 1190.3,274.4 1190.6,245.8 1190.9,288.0 1191.2,263.9 1191.5,297.5 1191.8,253.4 1192.1,279.1 1192.4,271.4 1192.7,303.8 1193.0,272.8 1193.3,317.9 1193.6,279.4 1193.9,353.0 1194.2,283.8 1194.5,344.6 1194.8,293.9 1195.1,358.7 1195.4,302.3 1195.7,346.7 1196.0,304.3 1196.3,345.0 1196.6,309.4 1196.9,353.3 1197.2,287.5 1197.5,358.2 1197.8,285.2 1198.1,377.0 1198.4,269.8 1198.7,318.8 1199.0,263.0 1199.3,351.3 1199.6,281.5 1199.9,339.8 1200.2,263.9 1200.5,353.1 1200.8,260.5 1201.1,363.5 1201.4,265.1 1201.7,334.5 1202.0,274.8 1202.3,356.2 1202.6,275.6 1202.9,350.3 1203.2,306.5 1203.5,338.8 1203.8,302.3 1204.1,372.0 1204.4,303.6 1204.7,311.8 1205.0,305.3 1205.3,324.5 1205.6,301.3 1205.9,332.3 1206.2,294.1 1206.5,332.7 1206.8,288.3 1207.1,337.9 1207.4,279.8 1207.7,331.0 1208.0,276.7 1208.3,337.0 1208.6,274.2 1208.9,340.0 1209.2,274.4 1209.5,332.7 1209.8,265.0 1210.1,337.6 1210.4,277.2 1210.7,306.0 1211.0,280.4 1211.3,292.6 1211.6,297.1 1211.9,319.4 1212.2,277.8 1212.5,329.0 1212.8,291.6 1213.1,342.4 1213.4,299.8 1213.7,348.2 1214.0,306.5 1214.3,360.0 1214.6,297.1 1214.9,342.9 1215.2,296.4 1215.5,342.9 1215.8,284.9 1216.1,322.5 1216.4,294.5 1216.7,334.4 1217.0,270.2 1217.3,342.1 1217.6,265.0 1217.9,356.3 1218.2,273.5 1218.5,321.7 1218.8,273.8 1219.1,365.0 1219.4,284.0 1219.7,327.3 1220.0,285.2 1220.3,347.1 1220.6,286.6 1220.9,346.8 1221.2,295.1 1221.5,348.1 1221.8,304.4 1222.1,342.8 1222.4,302.6 1222.7,336.9 1223.0,292.3 1223.3,328.9 1223.6,306.9 1223.9,331.2 1224.2,296.3 1224.5,341.5 1224.8,302.9 1225.1,308.8 1225.4,299.7 1225.7,307.7 1226.0,290.1 1226.3,308.6 1226.6,298.0 1226.9,306.6 1227.2,295.5 1227.5,319.4 1227.8,297.8 1228.1,355.0 1228.4,290.6 1228.7,302.6 1229.0,284.1 1229.3,314.8 1229.6,284.3 1229.9,296.9 1230.2,283.2 1230.5,302.9 1230.8,274.5 1231.1,287.8 1231.4,274.5 1231.7,296.5 1232.0,257.2 1232.3,298.0 1232.6,245.8 1232.9,314.2 1233.2,260.6 1233.5,305.6 1233.8,259.0 1234.1,357.0 1234.4,258.5 1234.7,292.0 1235.0,272.0 1235.3,283.9 1235.6,259.2 1235.9,312.9 1236.2,263.3 1236.5,317.1 1236.8,281.8 1237.1,326.6 1237.4,283.6 1237.7,337.8 1238.0,277.8 1238.3,314.1 1238.6,239.7 1238.9,325.4 1239.2,268.7 1239.5,308.5 1239.8,264.2 1240.1,345.0 1240.4,264.8 1240.7,273.8 1241.0,252.8 1241.3,273.5 1241.6,249.3 1241.9,297.9 1242.2,266.9 1242.5,283.9 1242.8,243.4 1243.1,303.9 1243.4,246.7 1243.7,315.2 1244.0,248.0 1244.3,317.3 1244.6,234.8 1244.9,288.1 1245.2,248.2 1245.5,277.3 1245.8,270.4 1246.1,347.0 1246.4,253.6 1246.7,313.6 1247.0,279.7 1247.3,300.7 1247.6,243.1 1247.9,301.8 1248.2,248.0 1248.5,287.7 1248.8,249.2 1249.1,277.8 1249.4,258.0 1249.7,282.0 1250.0,267.4 1250.3,294.1 1250.6,269.6 1250.9,318.6 1251.2,285.4 1251.5,341.7 1251.8,290.2 1252.1,355.0 1252.4,289.1 1252.7,326.4 1253.0,285.9 1253.3,329.6 1253.6,288.7 1253.9,342.1 1254.2,288.1 1254.5,338.3 1254.8,293.0 1255.1,335.9 1255.4,310.5 1255.7,331.0 1256.0,320.4 1256.3,321.1 1256.6,317.0 1256.9,315.9 1257.2,298.3 1257.5,313.3 1257.8,297.7 1258.1,360.0 1258.4,306.6 1258.7,353.1 1259.0,308.3 1259.3,348.5 1259.6,312.8 1259.9,350.7 1260.2,305.5 1260.5,346.3 1260.8,320.2 1261.1,351.3 1261.4,316.7 1261.7,331.8 1262.0,314.1 1262.3,333.7 1262.6,321.6 1262.9,330.7 1263.2,327.4 1263.5,345.3 1263.8,324.5 1264.1,363.0 1264.4,324.1 1264.7,354.5 1265.0,324.0 1265.3,338.7"/>
</g>
</g>
<path d="M196.4,383V54" stroke="#000" stroke-width="2.9" stroke-dasharray="11.1 5.45" fill="none"/>
<path d="M411.2,383V54" stroke="#000" stroke-width="2.9" stroke-dasharray="11.1 5.45" fill="none"/>
<path d="M626.6,383V54" stroke="#000" stroke-width="2.9" stroke-dasharray="11.1 5.45" fill="none"/>
<path d="M841.3,383V54" stroke="#000" stroke-width="2.9" stroke-dasharray="11.1 5.45" fill="none"/>
<path d="M1055.4,383V54" stroke="#000" stroke-width="2.9" stroke-dasharray="11.1 5.45" fill="none"/>
<text x="203.4" y="95" font-size="18.4" fill="#333" textLength="53" lengthAdjust="spacingAndGlyphs">09/27</text>
<text x="418.2" y="95" font-size="18.4" fill="#333" textLength="53" lengthAdjust="spacingAndGlyphs">09/28</text>
<text x="633.6" y="95" font-size="18.4" fill="#333" textLength="53" lengthAdjust="spacingAndGlyphs">09/29</text>
<text x="848.3" y="95" font-size="18.4" fill="#333" textLength="53" lengthAdjust="spacingAndGlyphs">09/30</text>
<text x="1062.4" y="95" font-size="18.4" fill="#333" textLength="53" lengthAdjust="spacingAndGlyphs">10/01</text>
<rect x="188" y="54" width="1162" height="329" fill="none" stroke="#000" stroke-width="1.9"/>
<path d="M188,383v6.8M277.38,383v6.8M366.77,383v6.8M456.15,383v6.8M545.54,383v6.8M634.92,383v6.8M724.31,383v6.8M813.69,383v6.8M903.08,383v6.8M992.46,383v6.8M1081.85,383v6.8M1171.23,383v6.8M1260.62,383v6.8M1350,383v6.8M188,383h-6.8M1350,383h6.8M188,300.75h-6.8M1350,300.75h6.8M188,218.5h-6.8M1350,218.5h6.8M188,136.25h-6.8M1350,136.25h6.8M188,54h-6.8M1350,54h6.8" stroke="#000" stroke-width="1.9" fill="none"/>
<text x="188" y="413" font-size="21.2" text-anchor="middle" textLength="26.17" lengthAdjust="spacingAndGlyphs">22</text>
<text x="277.38" y="413" font-size="21.2" text-anchor="middle" textLength="13.09" lengthAdjust="spacingAndGlyphs">8</text>
<text x="366.77" y="413" font-size="21.2" text-anchor="middle" textLength="26.17" lengthAdjust="spacingAndGlyphs">18</text>
<text x="456.15" y="413" font-size="21.2" text-anchor="middle" textLength="13.09" lengthAdjust="spacingAndGlyphs">4</text>
<text x="545.54" y="413" font-size="21.2" text-anchor="middle" textLength="26.17" lengthAdjust="spacingAndGlyphs">14</text>
<text x="634.92" y="413" font-size="21.2" text-anchor="middle" textLength="13.09" lengthAdjust="spacingAndGlyphs">0</text>
<text x="724.31" y="413" font-size="21.2" text-anchor="middle" textLength="26.17" lengthAdjust="spacingAndGlyphs">10</text>
<text x="813.69" y="413" font-size="21.2" text-anchor="middle" textLength="26.17" lengthAdjust="spacingAndGlyphs">20</text>
<text x="903.08" y="413" font-size="21.2" text-anchor="middle" textLength="13.09" lengthAdjust="spacingAndGlyphs">6</text>
<text x="992.46" y="413" font-size="21.2" text-anchor="middle" textLength="26.17" lengthAdjust="spacingAndGlyphs">16</text>
<text x="1081.85" y="413" font-size="21.2" text-anchor="middle" textLength="13.09" lengthAdjust="spacingAndGlyphs">2</text>
<text x="1171.23" y="413" font-size="21.2" text-anchor="middle" textLength="26.17" lengthAdjust="spacingAndGlyphs">12</text>
<text x="1260.62" y="413" font-size="21.2" text-anchor="middle" textLength="26.17" lengthAdjust="spacingAndGlyphs">22</text>
<text x="1350" y="413" font-size="21.2" text-anchor="middle" textLength="13.09" lengthAdjust="spacingAndGlyphs">8</text>
<text x="173" y="390.4" font-size="21.2" text-anchor="end" textLength="13.09" lengthAdjust="spacingAndGlyphs">0</text>
<text x="173" y="308.15" font-size="21.2" text-anchor="end" textLength="13.09" lengthAdjust="spacingAndGlyphs">2</text>
<text x="173" y="225.9" font-size="21.2" text-anchor="end" textLength="13.09" lengthAdjust="spacingAndGlyphs">4</text>
<text x="173" y="143.65" font-size="21.2" text-anchor="end" textLength="13.09" lengthAdjust="spacingAndGlyphs">6</text>
<text x="173" y="61.4" font-size="21.2" text-anchor="end" textLength="13.09" lengthAdjust="spacingAndGlyphs">8</text>
<text x="1365" y="390.4" font-size="21.2" textLength="33.24" lengthAdjust="spacingAndGlyphs">0.0</text>
<text x="1365" y="308.15" font-size="21.2" textLength="33.24" lengthAdjust="spacingAndGlyphs">4.5</text>
<text x="1365" y="225.9" font-size="21.2" textLength="33.24" lengthAdjust="spacingAndGlyphs">8.9</text>
<text x="1365" y="143.65" font-size="21.2" textLength="46.54" lengthAdjust="spacingAndGlyphs">13.4</text>
<text x="1365" y="61.4" font-size="21.2" textLength="46.54" lengthAdjust="spacingAndGlyphs">17.9</text>
<text x="605" y="441.2" font-size="21.2" textLength="196" lengthAdjust="spacingAndGlyphs">09/26/25-10/01/25</text>
<text x="813.5" y="441.2" font-size="21.2" textLength="118.5" lengthAdjust="spacingAndGlyphs">Hours(UTC)</text>
<text transform="translate(148.9,220) rotate(-90)" font-size="21.2" text-anchor="middle" textLength="36.7" lengthAdjust="spacingAndGlyphs">m/s</text>
<text transform="translate(1436.4,221) rotate(-90)" font-size="21.2" text-anchor="middle" textLength="46" lengthAdjust="spacingAndGlyphs">mph</text>
<rect x="188" y="11.2" width="704" height="35.7" rx="3" fill="#fff" fill-opacity="0.8" stroke="#cccccc" stroke-width="1.4"/>
<path d="M195,28.5H240" stroke="#bfbf00" stroke-opacity="0.5" stroke-width="2.8"/>
<text x="253.3" y="35.3" font-size="21.2" textLength="224.6" lengthAdjust="spacingAndGlyphs">10m Wind Speed (5s)</text>
<path d="M518.6,28.3H564" stroke="#0000ff" stroke-width="2.8"/>
<text x="577.4" y="35.3" font-size="21.2" textLength="139.9" lengthAdjust="spacingAndGlyphs">2-minute Avg</text>
<rect x="758" y="20.5" width="43.5" height="14.7" fill="#e8e8e8" stroke="#dadada" stroke-width="1"/>
<text x="816.7" y="35.3" font-size="21.2" textLength="66.6" lengthAdjust="spacingAndGlyphs">NIGHT</text>
</svg></body></html>
